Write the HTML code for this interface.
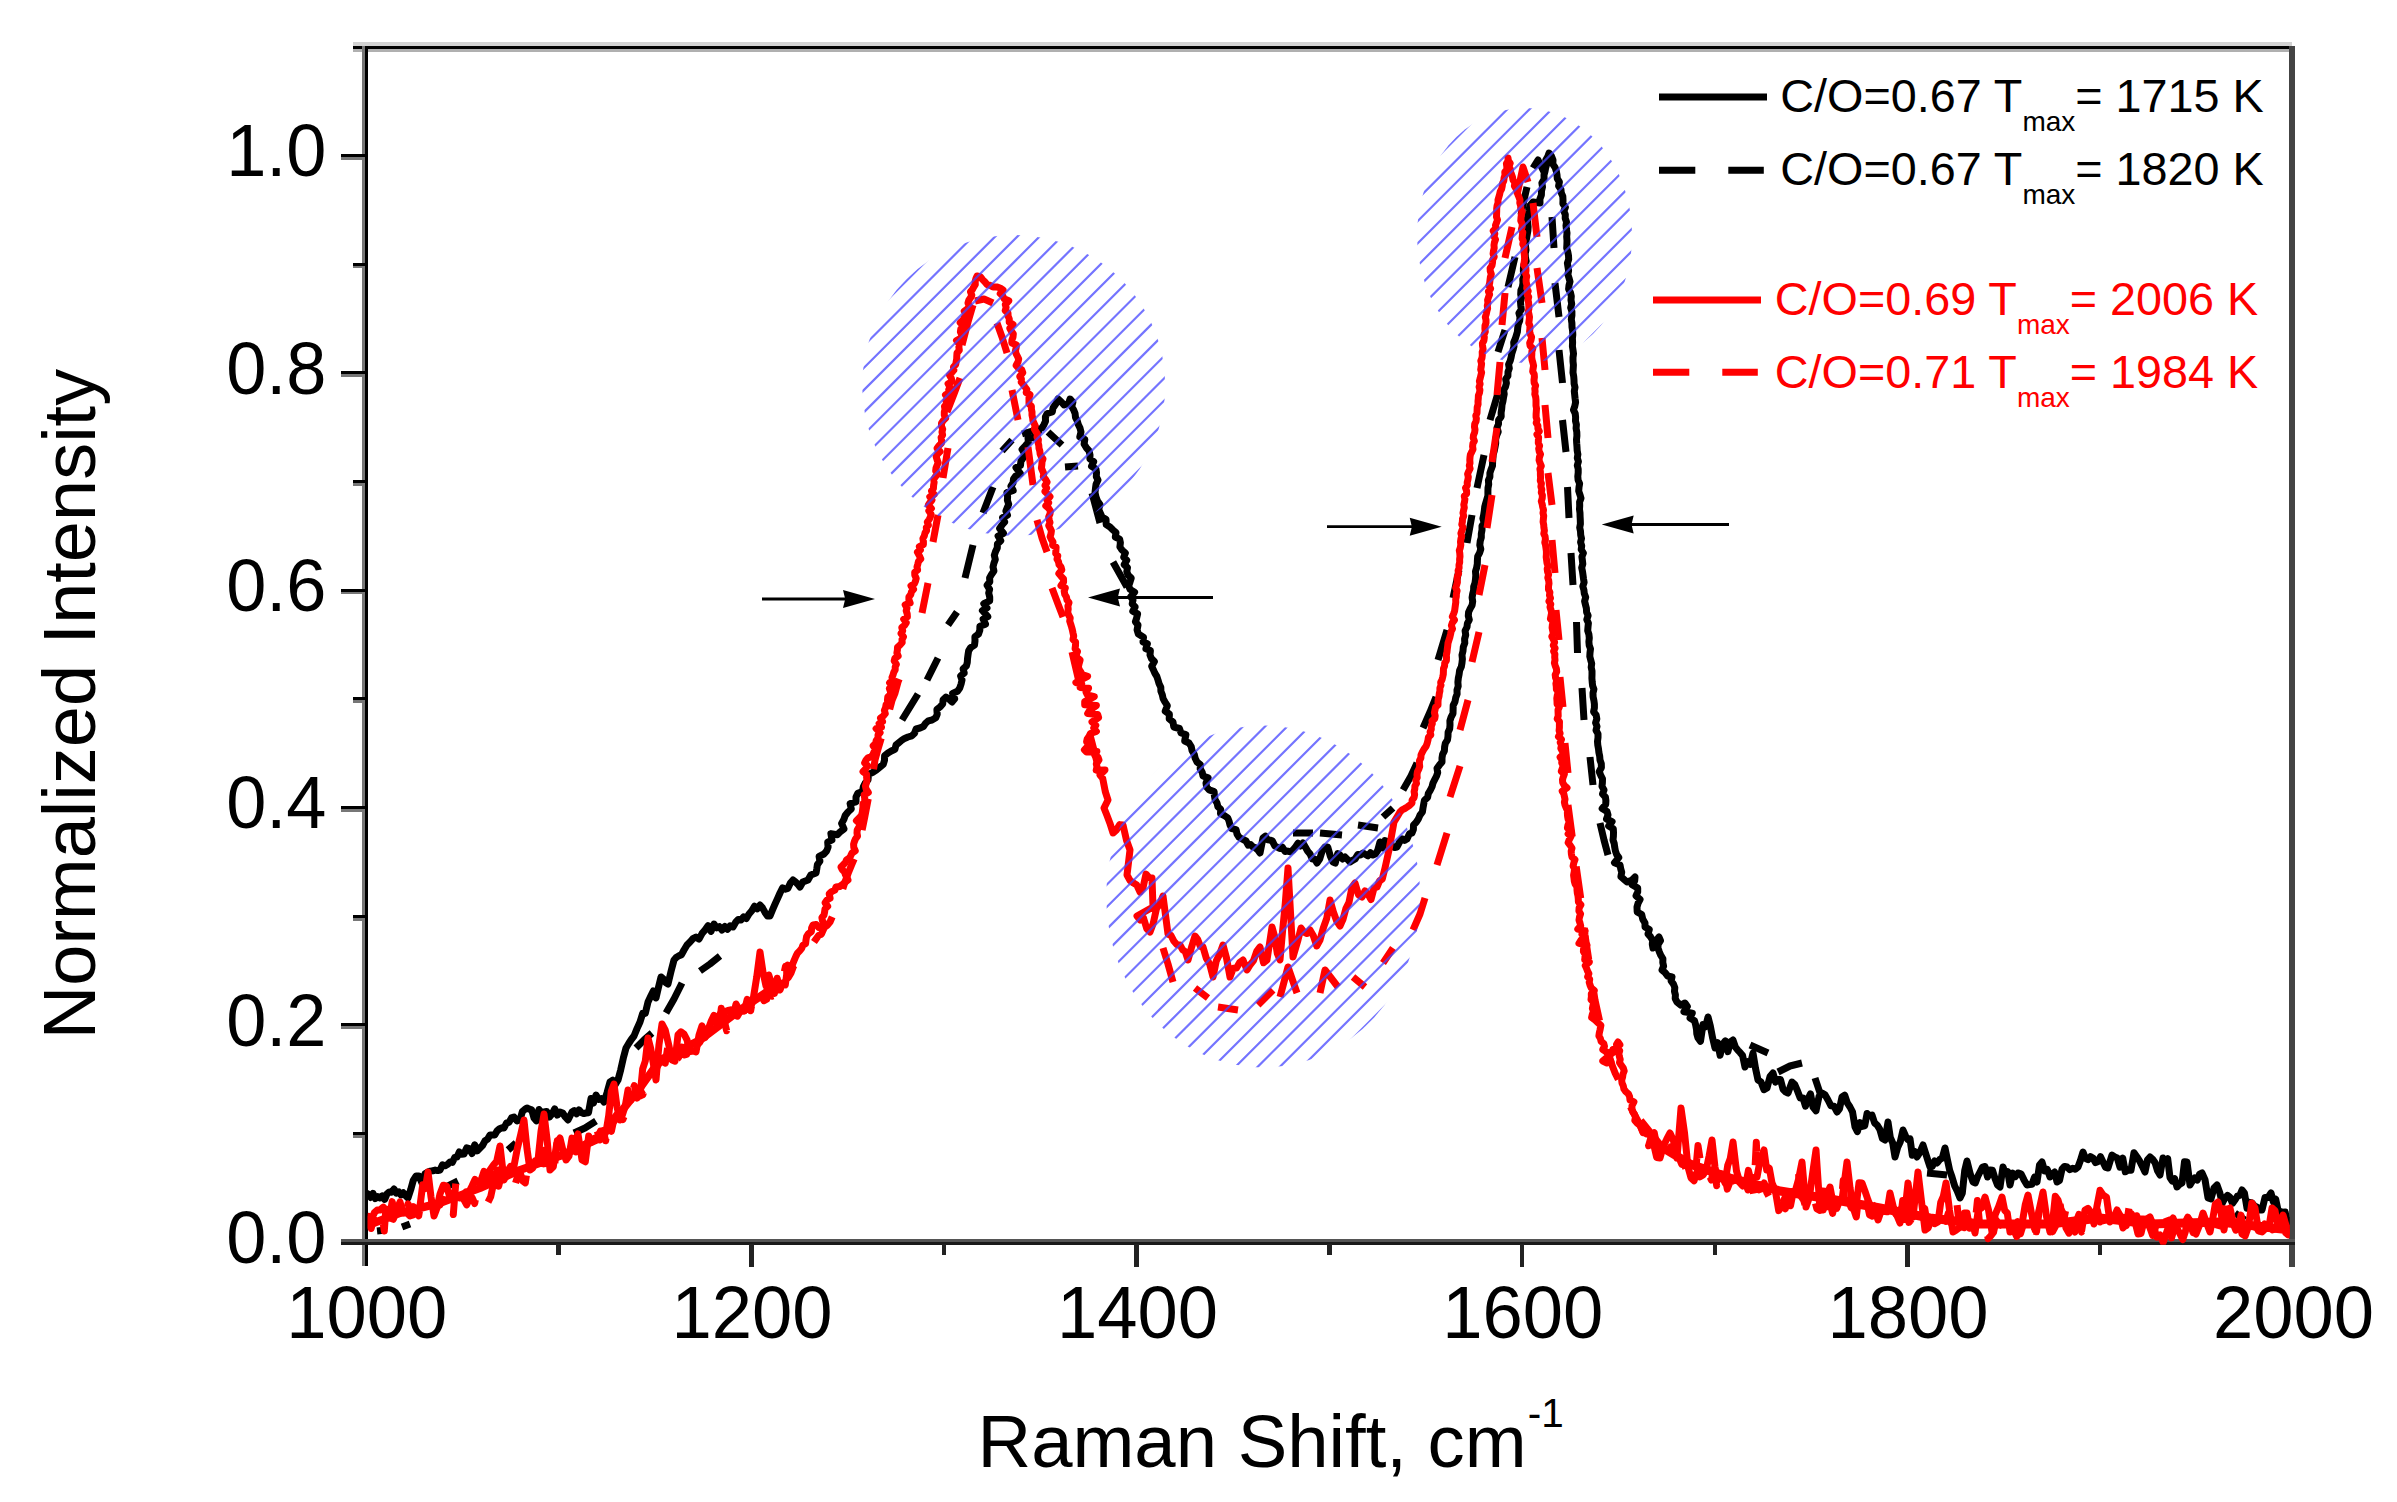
<!DOCTYPE html>
<html><head><meta charset="utf-8"><title>Raman spectra</title>
<style>
html,body{margin:0;padding:0;background:#fff;}
body{width:2397px;height:1502px;overflow:hidden;}
svg{display:block;}
text{font-family:"Liberation Sans",Arial,Helvetica,sans-serif;fill:#000;}
.tk{font-size:74px;}
.lg{font-size:46.75px;}
.sub{font-size:28px;}
.r{fill:#ff0000;}
</style></head><body>
<svg width="2397" height="1502" viewBox="0 0 2397 1502">
<rect width="2397" height="1502" fill="#fff"/>

<g shape-rendering="crispEdges">
<rect x="352.7" y="42" width="1939.5" height="3.7" fill="#d2d2d2"/>
<rect x="352.7" y="45.7" width="1942" height="3" fill="#000"/>
<rect x="352.7" y="48.7" width="1942" height="3" fill="#b0b0b0"/>
<rect x="362" y="45.7" width="2.7" height="1220.5" fill="#777"/>
<rect x="364.7" y="45.7" width="3" height="1220.5" fill="#000"/>
<rect x="2289.2" y="45.7" width="5.5" height="1220.8" fill="#444"/>
<rect x="340.7" y="1239.3" width="1954" height="2.7" fill="#555"/>
<rect x="340.7" y="1242" width="1954" height="2.7" fill="#1a1a1a"/>
<rect x="353" y="1132.1" width="12" height="3" fill="#000"/><rect x="353" y="1135.1" width="12" height="2.7" fill="#777"/>
<rect x="340.7" y="1023.4" width="24" height="3" fill="#000"/><rect x="340.7" y="1026.4" width="24" height="2.7" fill="#777"/>
<rect x="353" y="914.8" width="12" height="3" fill="#000"/><rect x="353" y="917.8" width="12" height="2.7" fill="#777"/>
<rect x="340.7" y="806.1" width="24" height="3" fill="#000"/><rect x="340.7" y="809.1" width="24" height="2.7" fill="#777"/>
<rect x="353" y="697.4" width="12" height="3" fill="#000"/><rect x="353" y="700.4" width="12" height="2.7" fill="#777"/>
<rect x="340.7" y="588.7" width="24" height="3" fill="#000"/><rect x="340.7" y="591.7" width="24" height="2.7" fill="#777"/>
<rect x="353" y="480.0" width="12" height="3" fill="#000"/><rect x="353" y="483.0" width="12" height="2.7" fill="#777"/>
<rect x="340.7" y="371.4" width="24" height="3" fill="#000"/><rect x="340.7" y="374.4" width="24" height="2.7" fill="#777"/>
<rect x="353" y="262.7" width="12" height="3" fill="#000"/><rect x="353" y="265.7" width="12" height="2.7" fill="#777"/>
<rect x="340.7" y="154.0" width="24" height="3" fill="#000"/><rect x="340.7" y="157.0" width="24" height="2.7" fill="#777"/>
<rect x="556.4" y="1244" width="4.6" height="11" fill="#222"/>
<rect x="749.1" y="1244" width="4.6" height="22.5" fill="#222"/>
<rect x="941.7" y="1244" width="4.6" height="11" fill="#222"/>
<rect x="1134.4" y="1244" width="4.6" height="22.5" fill="#222"/>
<rect x="1327.1" y="1244" width="4.6" height="11" fill="#222"/>
<rect x="1519.8" y="1244" width="4.6" height="22.5" fill="#222"/>
<rect x="1712.5" y="1244" width="4.6" height="11" fill="#222"/>
<rect x="1905.1" y="1244" width="4.6" height="22.5" fill="#222"/>
<rect x="2097.8" y="1244" width="4.6" height="11" fill="#222"/>
</g>
<clipPath id="plot"><rect x="367.7" y="50" width="1922" height="1194.7"/></clipPath><g clip-path="url(#plot)">
<path d="M366.0,1193.0 L368.3,1194.1 L370.7,1197.5 L373.0,1193.4 L375.3,1198.6 L377.7,1196.6 L380.0,1198.0 L382.3,1195.9 L384.7,1199.4 L387.0,1193.9 L389.3,1191.9 L391.7,1192.2 L394.0,1189.0 L396.3,1193.1 L398.7,1191.9 L401.0,1194.9 L403.3,1192.8 L405.7,1195.7 L408.0,1198.0 L410.7,1189.7 L413.3,1180.3 L416.0,1176.0 L419.0,1176.0 L422.0,1183.0 L425.0,1173.8 L428.0,1172.0 L430.4,1171.1 L432.8,1170.8 L435.2,1170.1 L437.6,1170.6 L440.0,1170.0 L442.5,1164.9 L445.0,1165.8 L447.5,1164.5 L450.0,1162.0 L452.3,1162.4 L454.7,1157.4 L457.0,1157.1 L459.3,1152.0 L461.7,1154.2 L464.0,1154.0 L466.7,1147.9 L469.3,1148.7 L472.0,1153.5 L474.7,1144.9 L477.3,1150.8 L480.0,1148.0 L482.5,1145.5 L485.0,1140.8 L487.5,1139.3 L490.0,1135.0 L492.3,1135.0 L494.7,1135.1 L497.0,1131.0 L499.3,1129.0 L501.7,1127.8 L504.0,1128.0 L506.5,1123.0 L509.0,1122.4 L511.5,1117.9 L514.0,1117.0 L517.0,1121.0 L520.0,1120.0 L522.3,1111.7 L524.7,1109.5 L527.0,1108.0 L529.3,1109.1 L531.7,1109.9 L534.0,1118.0 L536.5,1120.9 L539.0,1109.5 L541.5,1112.8 L544.0,1112.0 L546.7,1111.5 L549.3,1117.1 L552.0,1114.0 L554.7,1108.8 L557.3,1115.1 L560.0,1112.0 L562.7,1113.0 L565.3,1117.0 L568.0,1120.0 L572.0,1112.0 L574.3,1110.6 L576.7,1113.8 L579.0,1109.9 L581.3,1112.5 L583.7,1113.6 L586.0,1113.0 L588.5,1112.7 L591.0,1098.5 L593.5,1103.0 L596.0,1095.0 L598.7,1099.5 L601.3,1098.6 L604.0,1102.0 L607.0,1092.7 L610.0,1082.0 L612.7,1080.3 L615.3,1084.5 L618.0,1080.0 L620.7,1069.8 L623.3,1058.2 L626.0,1048.0 L628.7,1043.5 L631.3,1039.5 L634.0,1036.0 L637.0,1028.6 L640.0,1022.0 L642.7,1013.3 L645.3,1013.4 L648.0,1002.0 L650.7,996.3 L653.3,991.0 L656.0,998.0 L658.5,987.2 L661.0,977.0 L663.3,979.0 L665.7,982.5 L668.0,984.0 L671.0,971.5 L674.0,960.0 L676.5,957.2 L679.0,955.8 L681.5,954.7 L684.0,950.0 L687.0,945.0 L690.0,942.0 L693.0,938.6 L696.0,937.0 L699.0,939.1 L702.0,933.6 L705.0,930.0 L708.0,925.7 L711.0,931.3 L714.0,924.0 L716.7,927.8 L719.3,926.6 L722.0,930.0 L724.8,926.5 L727.5,929.2 L730.2,925.8 L733.0,927.0 L735.7,922.2 L738.3,919.4 L741.0,920.0 L743.7,916.8 L746.3,918.5 L749.0,914.0 L751.8,910.8 L754.5,906.2 L757.2,908.8 L760.0,905.0 L762.5,907.9 L765.0,912.4 L767.5,916.0 L770.0,916.0 L772.5,909.9 L775.0,904.2 L777.5,898.6 L780.0,893.0 L782.6,887.8 L785.2,889.3 L787.8,888.4 L790.4,883.0 L793.0,880.0 L795.3,881.8 L797.7,884.1 L800.0,887.0 L802.8,882.1 L808.0,880.0 L810.8,875.1 L816.0,873.0 L816.8,868.8 L817.4,864.6 L819.9,861.2 L819.1,856.4 L824.0,854.0 L826.7,850.9 L828.1,847.1 L827.7,842.2 L832.0,840.0 L830.9,833.6 L837.3,834.7 L840.0,832.0 L844.0,828.9 L841.6,823.4 L843.8,819.6 L845.2,815.5 L848.0,812.0 L851.3,809.0 L850.1,803.5 L856.0,801.8 L856.0,797.0 L857.8,793.2 L862.5,791.4 L863.3,786.8 L865.2,783.1 L868.0,780.0 L868.5,774.4 L872.8,772.4 L876.6,769.8 L880.0,767.0 L883.3,764.3 L884.5,760.3 L884.6,755.7 L888.0,753.0 L891.3,751.0 L894.9,749.3 L896.0,745.0 L898.8,742.7 L901.6,740.4 L904.6,738.4 L908.0,737.0 L911.8,735.9 L914.5,733.2 L916.1,729.0 L920.0,728.0 L923.4,726.5 L925.5,723.3 L928.3,720.9 L932.0,720.0 L935.8,717.8 L937.2,714.2 L936.9,709.5 L940.1,706.9 L942.7,704.0 L943.1,699.7 L946.0,697.0 L949.1,699.3 L952.0,702.0 L954.7,698.8 L952.6,693.4 L957.5,691.2 L959.8,687.9 L961.1,684.0 L962.0,680.0 L960.6,675.9 L964.2,673.0 L963.1,668.9 L966.4,665.9 L967.3,662.4 L967.5,658.7 L968.0,655.0 L968.6,650.9 L970.6,647.6 L974.5,645.1 L975.0,641.0 L974.9,636.8 L978.5,634.0 L979.8,630.3 L979.9,626.2 L985.5,624.1 L983.1,619.0 L987.8,616.6 L982.4,610.5 L987.0,608.0 L983.8,603.7 L989.7,600.8 L989.7,597.0 L988.7,593.0 L989.6,589.4 L987.1,585.2 L989.8,581.8 L989.6,577.9 L991.5,574.4 L993.9,570.9 L993.0,567.0 L993.9,563.2 L995.3,559.5 L994.3,555.3 L995.5,551.6 L997.3,547.9 L997.4,544.0 L1000.8,540.7 L998.1,536.1 L1003.5,533.3 L999.6,528.5 L1002.0,525.0 L1004.7,522.0 L1002.6,517.7 L1007.5,515.2 L1005.9,511.1 L1007.2,507.7 L1008.7,504.3 L1007.4,500.2 L1007.6,496.6 L1006.9,492.6 L1013.2,490.5 L1010.9,486.2 L1013.0,483.0 L1013.5,479.1 L1015.8,475.8 L1020.4,473.5 L1016.0,467.6 L1020.5,465.3 L1020.9,461.3 L1023.0,458.0 L1024.9,454.2 L1022.0,449.3 L1025.3,445.8 L1028.4,442.3 L1028.0,438.0 L1033.0,437.7 L1036.6,435.2 L1037.7,429.3 L1042.0,428.0 L1043.9,424.7 L1045.5,421.2 L1045.4,416.9 L1047.2,413.5 L1052.3,412.0 L1053.0,408.0 L1055.9,403.7 L1058.0,399.0 L1061.2,401.8 L1064.0,405.0 L1068.5,403.5 L1070.0,399.0 L1072.9,402.1 L1071.7,406.5 L1073.7,409.9 L1075.1,413.5 L1075.5,417.4 L1077.2,420.8 L1078.3,424.5 L1080.0,428.0 L1081.0,432.0 L1079.8,436.9 L1084.8,439.4 L1084.1,444.0 L1086.2,447.6 L1089.1,450.9 L1090.0,455.0 L1089.9,459.0 L1093.7,461.7 L1091.5,466.3 L1095.9,468.9 L1096.5,472.6 L1096.3,476.6 L1098.0,480.0 L1096.1,484.1 L1095.5,488.3 L1095.0,492.6 L1096.0,497.0 L1097.5,500.9 L1100.0,504.5 L1098.7,509.3 L1100.3,513.1 L1102.0,517.0 L1106.0,519.2 L1106.2,524.6 L1110.0,527.0 L1113.0,530.0 L1116.0,532.7 L1115.3,537.0 L1119.6,539.1 L1120.4,542.7 L1119.9,546.9 L1122.0,550.0 L1125.4,553.0 L1123.7,557.2 L1126.8,560.2 L1124.2,564.6 L1127.5,567.6 L1126.8,571.5 L1128.0,575.0 L1131.2,578.1 L1130.0,582.0 L1128.6,586.0 L1130.1,589.4 L1134.6,592.2 L1130.7,596.7 L1133.0,600.0 L1132.2,603.9 L1135.1,607.0 L1132.8,611.2 L1137.6,613.9 L1136.7,617.8 L1135.4,621.8 L1138.0,625.0 L1137.1,629.9 L1138.4,634.1 L1143.5,637.2 L1143.0,642.0 L1147.4,643.8 L1145.9,648.8 L1150.4,650.6 L1150.0,655.0 L1151.4,658.5 L1154.4,661.5 L1151.7,666.3 L1153.3,669.7 L1154.8,673.1 L1156.8,676.4 L1158.0,680.0 L1159.1,683.7 L1160.8,687.2 L1160.9,691.2 L1162.3,694.8 L1163.1,698.6 L1165.0,702.0 L1167.3,705.7 L1165.2,711.2 L1169.4,714.2 L1169.2,718.9 L1173.0,722.0 L1173.8,727.0 L1179.5,728.5 L1181.0,733.0 L1185.9,734.5 L1184.7,741.0 L1189.0,743.0 L1191.2,746.5 L1192.1,750.7 L1194.2,754.2 L1195.2,758.3 L1197.0,762.0 L1200.4,764.7 L1200.2,768.9 L1202.2,772.2 L1203.0,776.0 L1208.1,777.9 L1206.0,783.0 L1206.6,787.0 L1209.2,789.9 L1214.1,791.6 L1214.4,795.7 L1215.1,799.7 L1217.0,803.0 L1217.9,806.7 L1220.7,809.3 L1220.5,813.6 L1224.4,815.6 L1227.7,817.8 L1229.1,821.3 L1230.0,825.0 L1231.8,828.6 L1236.1,829.6 L1237.0,834.0 L1239.1,837.3 L1242.4,839.2 L1246.0,841.0 L1248.3,845.2 L1250.7,844.6 L1253.0,847.0 L1255.3,847.7 L1257.7,849.7 L1260.0,853.0 L1263.0,838.0 L1265.3,836.1 L1267.7,839.8 L1270.0,840.1 L1272.3,840.9 L1274.7,845.8 L1277.0,847.0 L1279.7,848.5 L1282.3,847.2 L1285.0,851.5 L1287.7,851.1 L1290.3,851.8 L1293.0,850.0 L1295.5,846.9 L1298.0,843.2 L1300.5,846.0 L1303.0,843.0 L1305.3,847.0 L1307.7,851.3 L1310.0,853.9 L1312.3,859.1 L1314.7,859.0 L1317.0,863.0 L1319.7,859.1 L1322.3,850.4 L1325.0,847.0 L1327.7,846.9 L1330.3,856.0 L1333.0,862.0 L1335.3,863.0 L1337.7,853.6 L1340.0,855.0 L1342.5,859.0 L1345.0,857.0 L1347.5,859.4 L1350.0,862.0 L1352.6,860.3 L1355.2,858.9 L1357.8,854.5 L1360.4,855.1 L1363.0,853.0 L1365.5,854.5 L1368.0,855.8 L1370.5,852.8 L1373.0,855.0 L1375.3,854.1 L1377.7,850.5 L1380.0,842.0 L1382.4,848.0 L1384.9,840.5 L1387.3,844.5 L1389.7,840.8 L1392.1,846.4 L1394.6,847.5 L1397.0,847.0 L1399.5,842.1 L1402.0,838.8 L1404.5,840.4 L1407.0,839.0 L1409.5,833.6 L1412.0,833.0 L1413.4,829.4 L1413.5,825.1 L1416.3,822.1 L1418.4,818.8 L1420.0,815.2 L1422.4,812.0 L1423.0,808.0 L1423.7,804.1 L1424.4,800.3 L1427.6,797.4 L1428.3,793.6 L1430.3,790.2 L1432.0,786.8 L1433.0,783.0 L1434.7,779.6 L1436.5,776.2 L1437.7,772.6 L1437.0,768.3 L1439.4,765.1 L1442.0,762.0 L1442.0,758.0 L1442.6,754.3 L1444.4,750.8 L1444.6,747.0 L1445.3,743.3 L1447.5,739.9 L1448.0,736.2 L1448.1,732.3 L1449.7,728.8 L1450.0,725.0 L1449.9,720.9 L1451.1,717.1 L1453.0,713.5 L1453.1,709.4 L1453.2,705.4 L1455.0,701.7 L1455.7,697.8 L1457.1,694.1 L1457.0,690.0 L1458.2,686.2 L1457.9,682.2 L1458.3,678.3 L1459.1,674.4 L1459.6,670.5 L1461.3,666.8 L1462.0,662.9 L1462.4,659.0 L1462.0,655.0 L1463.0,651.0 L1463.3,647.0 L1464.8,643.1 L1464.6,639.0 L1465.7,635.0 L1465.1,630.8 L1467.0,627.0 L1467.4,623.3 L1469.3,619.8 L1468.3,615.9 L1468.6,612.1 L1470.2,608.6 L1472.1,605.2 L1472.7,601.5 L1472.1,597.6 L1472.7,593.9 L1473.6,590.3 L1473.7,586.6 L1475.0,583.0 L1475.5,579.2 L1475.8,575.4 L1475.5,571.5 L1476.6,567.8 L1477.3,564.0 L1477.4,560.2 L1477.7,556.4 L1479.6,552.8 L1480.8,549.1 L1479.8,545.1 L1480.2,541.3 L1481.3,537.6 L1481.3,533.8 L1482.0,530.0 L1482.0,526.1 L1484.1,522.5 L1482.9,518.4 L1483.7,514.7 L1484.3,510.8 L1484.7,507.0 L1485.7,503.2 L1486.8,499.5 L1487.9,495.8 L1487.9,491.9 L1488.0,488.0 L1488.7,484.3 L1488.4,480.4 L1489.9,476.8 L1489.9,473.0 L1491.1,469.4 L1492.5,465.8 L1492.6,461.9 L1492.9,458.2 L1493.2,454.4 L1494.3,450.7 L1495.0,447.0 L1495.7,443.2 L1495.6,439.3 L1496.6,435.5 L1498.2,431.8 L1497.0,427.7 L1498.5,424.0 L1498.6,420.1 L1501.2,416.6 L1501.1,412.7 L1501.7,408.9 L1502.0,405.0 L1502.9,401.4 L1503.5,397.7 L1504.2,394.0 L1503.6,390.1 L1505.5,386.7 L1506.4,383.1 L1505.7,379.2 L1507.9,375.8 L1508.0,372.0 L1509.3,368.4 L1508.6,364.4 L1510.2,360.9 L1511.1,357.3 L1511.8,353.6 L1513.0,350.0 L1514.0,346.4 L1513.7,342.5 L1515.2,339.0 L1516.3,335.4 L1517.4,331.8 L1517.7,328.0 L1518.3,324.3 L1519.7,320.8 L1520.0,317.0 L1518.9,313.1 L1521.3,309.5 L1520.8,305.6 L1520.5,301.8 L1521.4,298.1 L1520.7,294.2 L1520.9,290.4 L1522.4,286.8 L1523.0,283.0 L1522.8,279.3 L1524.2,275.7 L1523.4,271.9 L1523.4,268.3 L1524.0,264.6 L1526.2,261.1 L1525.4,257.3 L1525.2,253.6 L1526.0,250.0 L1525.5,246.1 L1525.7,242.2 L1526.6,238.3 L1527.2,234.5 L1527.9,230.6 L1528.1,226.7 L1527.7,222.8 L1527.3,218.9 L1528.0,215.0 L1529.1,210.5 L1529.8,205.8 L1533.0,202.0 L1540.0,203.0 L1539.9,198.9 L1541.4,195.0 L1541.5,191.0 L1542.5,187.0 L1541.9,182.9 L1544.1,179.1 L1544.0,175.0 L1545.0,171.4 L1545.7,167.7 L1546.8,164.1 L1545.8,160.0 L1547.8,156.6 L1549.0,153.0 L1551.5,156.2 L1553.0,160.0 L1552.8,164.1 L1555.1,167.5 L1556.3,171.2 L1557.0,175.0 L1557.3,178.7 L1559.4,182.0 L1558.6,185.9 L1560.9,189.2 L1561.3,192.8 L1562.8,196.3 L1563.0,200.0 L1562.9,203.7 L1565.4,207.2 L1563.9,211.1 L1565.3,214.6 L1565.2,218.3 L1566.5,221.9 L1566.0,225.7 L1566.4,229.3 L1567.0,233.0 L1566.7,236.8 L1567.0,240.6 L1566.9,244.3 L1566.7,248.1 L1567.8,251.9 L1568.5,255.6 L1568.7,259.4 L1567.4,263.2 L1568.0,267.0 L1568.6,270.6 L1567.9,274.4 L1569.0,278.0 L1570.0,281.6 L1569.0,285.4 L1568.6,289.1 L1570.5,292.7 L1571.3,296.3 L1571.0,300.0 L1571.7,303.8 L1570.7,307.7 L1571.9,311.5 L1571.9,315.4 L1571.3,319.2 L1571.9,323.1 L1572.0,326.9 L1572.6,330.8 L1572.8,334.6 L1572.4,338.5 L1572.6,342.3 L1572.4,346.2 L1573.0,350.0 L1573.5,353.7 L1573.0,357.5 L1573.0,361.3 L1573.4,365.0 L1573.2,368.8 L1573.0,372.5 L1573.7,376.3 L1574.0,380.0 L1574.1,383.7 L1575.0,387.4 L1574.3,391.2 L1574.7,394.9 L1575.1,398.6 L1575.6,402.3 L1574.8,406.1 L1573.5,409.9 L1575.2,413.5 L1575.6,417.2 L1575.5,421.0 L1576.4,424.6 L1576.1,428.4 L1576.8,432.1 L1576.9,435.8 L1576.5,439.6 L1576.7,443.3 L1577.0,447.0 L1577.2,450.7 L1577.9,454.3 L1577.3,458.0 L1578.4,461.6 L1577.3,465.4 L1578.2,469.0 L1578.2,472.7 L1577.8,476.4 L1578.1,480.0 L1579.6,483.6 L1579.0,487.3 L1578.7,491.0 L1579.9,494.6 L1581.0,498.3 L1579.6,502.0 L1579.7,505.7 L1579.5,509.3 L1580.0,513.0 L1580.1,516.6 L1580.3,520.3 L1580.4,523.9 L1579.7,527.6 L1580.5,531.3 L1580.7,534.9 L1581.5,538.5 L1580.6,542.2 L1581.7,545.8 L1581.2,549.5 L1583.4,553.0 L1581.9,556.8 L1582.4,560.4 L1582.8,564.0 L1581.7,567.7 L1582.5,571.4 L1583.0,575.0 L1583.5,578.7 L1584.1,582.4 L1582.8,586.3 L1583.9,589.9 L1584.3,593.6 L1585.7,597.2 L1584.6,601.1 L1585.5,604.8 L1586.4,608.4 L1586.6,612.1 L1588.1,615.7 L1586.8,619.6 L1588.4,623.2 L1588.0,627.0 L1587.7,630.7 L1588.9,634.3 L1589.3,638.0 L1588.9,641.7 L1589.2,645.3 L1590.5,648.9 L1590.0,652.7 L1589.8,656.4 L1590.7,660.0 L1591.7,663.6 L1591.2,667.3 L1592.0,670.9 L1592.0,674.6 L1591.9,678.3 L1592.2,682.0 L1592.6,685.7 L1593.9,689.2 L1593.0,693.0 L1593.1,696.7 L1593.9,700.4 L1594.4,704.1 L1594.4,707.9 L1593.6,711.8 L1596.2,715.2 L1596.8,718.9 L1595.6,722.8 L1597.0,726.4 L1596.0,730.3 L1598.0,733.9 L1598.0,737.6 L1597.5,741.4 L1597.8,745.2 L1598.5,748.9 L1598.9,752.6 L1599.7,756.3 L1600.0,760.0 L1601.3,763.6 L1601.4,767.5 L1599.2,771.6 L1600.7,775.2 L1602.5,778.8 L1602.4,782.6 L1602.0,786.4 L1604.0,790.0 L1602.5,793.9 L1605.4,797.1 L1605.9,800.7 L1605.7,804.4 L1602.2,808.6 L1607.0,811.5 L1608.0,815.0 L1606.5,819.0 L1612.1,821.6 L1608.7,826.0 L1613.3,828.8 L1613.5,832.5 L1613.4,836.2 L1613.0,840.0 L1614.2,843.5 L1614.7,847.2 L1615.4,850.9 L1616.6,854.4 L1618.8,857.6 L1614.5,862.7 L1620.0,865.0 L1620.7,868.7 L1621.7,872.3 L1620.9,876.6 L1624.0,879.3 L1627.0,882.0 L1631.5,880.4 L1635.0,877.0 L1634.7,880.8 L1632.2,884.7 L1637.7,888.1 L1637.7,891.9 L1636.0,895.8 L1640.1,899.3 L1638.1,903.2 L1637.0,907.0 L1637.2,911.9 L1641.7,914.6 L1642.7,919.1 L1645.0,923.0 L1645.0,926.9 L1649.3,929.5 L1648.0,933.9 L1650.6,936.9 L1652.6,940.3 L1652.3,944.3 L1653.0,948.0 L1654.9,944.3 L1656.4,940.3 L1659.0,937.0 L1660.5,940.6 L1658.0,944.5 L1658.0,948.2 L1659.3,951.8 L1660.8,955.3 L1662.9,958.8 L1662.8,962.5 L1663.6,966.2 L1662.0,970.0 L1665.1,972.6 L1667.7,976.0 L1672.0,977.0 L1671.1,980.9 L1673.5,984.1 L1674.8,987.6 L1674.5,991.3 L1675.4,994.9 L1675.2,998.6 L1677.0,1002.0 L1680.7,1005.1 L1685.0,1003.0 L1687.4,1006.4 L1684.0,1011.7 L1692.3,1013.1 L1690.0,1018.0 L1694.5,1020.8 L1695.7,1025.0 L1696.5,1029.3 L1696.8,1033.8 L1698.0,1038.0 L1700.5,1041.3 L1703.0,1024.6 L1705.5,1026.8 L1708.0,1017.0 L1710.3,1025.8 L1712.7,1038.3 L1715.0,1048.0 L1717.6,1042.6 L1720.1,1055.2 L1722.7,1044.4 L1725.3,1040.9 L1727.9,1051.7 L1730.4,1041.9 L1733.0,1040.0 L1735.4,1047.1 L1737.8,1050.2 L1740.2,1052.7 L1742.6,1055.6 L1745.0,1067.0 L1747.7,1061.6 L1750.3,1064.4 L1753.0,1053.0 L1755.5,1068.3 L1758.0,1080.0 L1761.0,1081.9 L1764.0,1089.7 L1767.0,1088.0 L1770.0,1076.6 L1773.0,1073.0 L1775.5,1082.1 L1778.0,1079.6 L1780.5,1079.5 L1783.0,1089.2 L1785.5,1091.8 L1788.0,1093.0 L1792.0,1082.0 L1794.8,1084.6 L1797.5,1090.9 L1800.2,1098.1 L1803.0,1098.0 L1805.5,1106.1 L1808.0,1099.0 L1810.5,1093.8 L1813.0,1107.0 L1816.0,1110.8 L1819.0,1096.6 L1822.0,1093.0 L1825.0,1094.8 L1828.0,1100.0 L1831.0,1105.8 L1834.0,1106.2 L1837.0,1112.0 L1839.5,1108.8 L1842.0,1097.0 L1844.7,1095.2 L1847.3,1102.8 L1850.0,1107.0 L1852.5,1111.8 L1855.0,1127.0 L1857.4,1131.6 L1859.9,1122.5 L1862.3,1126.4 L1864.7,1125.9 L1867.1,1113.5 L1869.6,1115.8 L1872.0,1115.0 L1874.6,1123.0 L1877.2,1125.2 L1879.8,1129.4 L1882.4,1138.5 L1885.0,1140.0 L1888.0,1122.0 L1890.3,1137.5 L1892.7,1142.9 L1895.0,1157.0 L1897.7,1147.4 L1900.3,1141.7 L1903.0,1130.0 L1905.3,1135.4 L1907.7,1139.6 L1910.0,1138.8 L1912.3,1155.3 L1914.7,1151.5 L1917.0,1157.0 L1920.0,1152.1 L1923.0,1145.0 L1925.3,1152.2 L1927.7,1159.9 L1930.0,1167.0 L1932.3,1166.3 L1934.7,1160.9 L1937.0,1163.0 L1939.7,1159.6 L1942.3,1158.0 L1945.0,1148.0 L1947.3,1159.3 L1949.7,1170.4 L1952.0,1177.0 L1954.7,1186.0 L1957.3,1191.1 L1960.0,1198.0 L1962.3,1193.2 L1964.7,1170.5 L1967.0,1161.0 L1970.0,1173.1 L1973.0,1182.0 L1975.3,1182.9 L1977.7,1176.5 L1980.0,1172.0 L1982.5,1167.1 L1985.0,1166.5 L1987.5,1177.0 L1990.0,1170.0 L1992.5,1170.3 L1995.0,1178.5 L1997.5,1185.0 L2000.0,1187.0 L2003.0,1167.0 L2005.3,1173.4 L2007.7,1171.6 L2010.0,1185.0 L2012.7,1173.1 L2015.3,1176.6 L2018.0,1173.0 L2021.0,1173.8 L2024.0,1179.9 L2027.0,1185.0 L2029.5,1184.6 L2032.0,1184.2 L2034.5,1177.2 L2037.0,1182.0 L2039.5,1165.0 L2042.0,1162.0 L2044.7,1170.9 L2047.3,1169.4 L2050.0,1177.0 L2052.3,1173.8 L2054.7,1172.0 L2057.0,1182.0 L2059.5,1180.5 L2062.0,1169.2 L2064.5,1166.4 L2067.0,1167.0 L2069.8,1169.6 L2072.5,1168.3 L2075.2,1169.3 L2078.0,1167.0 L2080.5,1160.2 L2083.0,1152.0 L2085.5,1158.4 L2088.0,1159.7 L2090.5,1156.7 L2093.0,1158.0 L2095.5,1162.7 L2098.0,1161.5 L2100.5,1156.6 L2103.0,1162.0 L2105.5,1167.4 L2108.0,1168.0 L2112.0,1155.0 L2114.7,1156.9 L2117.3,1158.0 L2120.0,1167.2 L2122.7,1158.0 L2125.3,1171.8 L2128.0,1170.0 L2131.0,1170.2 L2134.0,1152.7 L2137.0,1157.0 L2139.7,1161.2 L2142.3,1166.3 L2145.0,1172.0 L2147.5,1159.8 L2150.0,1157.0 L2152.5,1159.1 L2155.0,1162.6 L2157.5,1170.8 L2160.0,1175.0 L2163.0,1158.0 L2165.3,1160.5 L2167.7,1158.7 L2170.0,1177.5 L2172.3,1181.1 L2174.7,1178.7 L2177.0,1187.0 L2179.5,1184.4 L2182.0,1183.0 L2184.5,1161.7 L2187.0,1162.0 L2190.0,1185.0 L2192.4,1180.9 L2194.8,1178.0 L2197.2,1180.1 L2199.6,1174.1 L2202.0,1173.0 L2205.0,1179.6 L2208.0,1198.0 L2211.0,1198.9 L2214.0,1188.0 L2217.0,1185.0 L2219.7,1192.4 L2222.3,1203.2 L2225.0,1198.0 L2227.5,1195.4 L2230.0,1197.3 L2232.5,1203.3 L2235.0,1200.0 L2237.3,1196.2 L2239.7,1195.5 L2242.0,1190.0 L2244.5,1193.2 L2247.0,1208.3 L2249.5,1202.4 L2252.0,1203.0 L2254.5,1206.2 L2257.0,1207.0 L2259.5,1209.9 L2262.0,1210.0 L2265.0,1197.5 L2268.0,1197.5 L2271.0,1193.0 L2273.3,1201.8 L2275.7,1199.3 L2278.0,1210.0 L2280.4,1211.6 L2282.8,1212.4 L2285.2,1212.0 L2287.6,1226.1 L2290.0,1217.0" fill="none" stroke="#000" stroke-width="7" stroke-linejoin="round" stroke-linecap="butt"/>
<path d="M377.0,1231.0 L386.0,1230.0 M402.0,1227.0 L410.0,1224.0 M448.0,1186.0 L458.0,1181.0 M508.0,1150.0 L516.0,1143.0 M574.0,1133.0 L585.0,1128.0 L596.0,1121.0 M636.0,1048.0 L644.0,1040.0 L652.0,1033.0 M666.0,1013.0 L674.0,999.0 L682.0,983.0 M700.0,971.0 L710.0,964.0 L720.0,956.0 M902.0,720.0 L910.0,707.0 L918.0,694.0 M927.0,680.0 L938.0,658.0 M948.0,625.0 L957.0,612.0 M965.0,578.0 L973.0,545.0 M983.0,513.0 L993.0,487.0 M1002.0,451.0 L1012.0,440.0 M1022.0,434.0 L1036.0,430.0 L1042.0,430.0 M1048.0,432.0 L1062.0,445.0 M1065.0,467.0 L1078.0,466.0 M1092.0,493.0 L1100.0,523.0 M1113.0,562.0 L1127.0,587.0 M1293.0,833.0 L1313.0,833.0 M1320.0,833.0 L1342.0,835.0 M1358.0,825.0 L1378.0,828.0 M1383.0,817.0 L1393.0,808.0 M1403.0,790.0 L1411.0,776.0 L1417.0,763.0 M1423.0,728.0 L1430.0,712.0 L1436.0,697.0 M1438.0,660.0 L1447.0,630.0 M1453.0,598.0 L1459.0,570.0 M1467.0,543.0 L1472.0,515.0 M1477.0,488.0 L1484.0,455.0 M1490.0,420.0 L1498.0,393.0 M1498.0,352.0 L1505.0,330.0 M1508.0,287.0 L1515.0,257.0 M1521.0,215.0 L1524.0,200.0 L1527.0,187.0 M1533.0,168.0 L1538.0,160.0 L1544.0,172.0 M1552.0,217.0 L1554.0,248.0 M1555.0,283.0 L1559.0,317.0 M1559.0,350.0 L1562.5,383.0 M1562.5,420.0 L1566.0,452.0 M1567.5,487.0 L1569.0,518.0 M1571.0,553.0 L1573.0,585.0 M1576.5,622.0 L1577.5,653.0 M1582.0,688.0 L1584.0,720.0 M1590.0,757.0 L1593.0,785.0 M1600.0,823.0 L1604.0,840.0 L1608.0,855.0 M1750.0,1045.0 L1768.0,1053.0 M1778.0,1072.0 L1790.0,1066.0 L1802.0,1063.0 M1815.0,1078.0 L1820.0,1093.0 M1927.0,1173.0 L1947.0,1175.0 M2235.0,1213.0 L2245.0,1220.0 M2258.0,1225.0 L2268.0,1227.0 M2280.0,1228.0 L2288.0,1230.0" fill="none" stroke="#000" stroke-width="7" stroke-linejoin="round"/>
<path d="M366.0,1220.0 L368.8,1216.5 L371.6,1219.1 L374.4,1212.6 L377.2,1210.1 L380.0,1210.0 L383.3,1207.1 L386.7,1214.1 L390.0,1218.0 L393.3,1219.3 L396.7,1209.9 L400.0,1202.0 L403.3,1212.9 L406.7,1212.8 L410.0,1216.0 L413.3,1215.0 L416.7,1210.4 L420.0,1206.0 L422.7,1184.7 L425.3,1188.5 L428.0,1172.0 L431.0,1197.0 L434.0,1216.0 L437.0,1208.0 L440.0,1194.0 L443.3,1185.2 L446.7,1186.2 L450.0,1198.0 L453.3,1192.7 L456.7,1195.2 L460.0,1198.0 L463.0,1196.8 L466.0,1191.7 L469.0,1192.1 L472.0,1186.0 L475.0,1179.5 L478.0,1182.5 L481.0,1180.4 L484.0,1171.4 L487.0,1183.0 L490.0,1170.0 L493.3,1165.3 L496.7,1161.2 L500.0,1146.0 L504.0,1180.0 L507.3,1171.6 L510.7,1166.2 L514.0,1166.0 L517.3,1148.6 L520.7,1134.7 L524.0,1120.0 L527.0,1148.8 L530.0,1170.0 L532.7,1168.2 L535.3,1160.6 L538.0,1160.0 L541.0,1131.3 L544.0,1114.0 L547.0,1138.9 L550.0,1170.0 L553.3,1166.7 L556.7,1143.8 L560.0,1138.0 L563.0,1150.5 L566.0,1160.0 L569.0,1156.1 L572.0,1138.1 L575.0,1140.8 L578.0,1134.0 L582.0,1160.0 L585.3,1161.8 L588.7,1135.9 L592.0,1142.0 L594.8,1138.1 L597.6,1137.4 L600.4,1131.1 L603.2,1137.0 L606.0,1132.0 L608.7,1115.6 L611.3,1091.2 L614.0,1084.0 L617.0,1107.0 L620.0,1120.0 L622.7,1114.0 L625.3,1105.7 L628.0,1090.0 L631.0,1100.1 L634.0,1095.2 L637.0,1095.2 L640.0,1096.0 L642.7,1068.9 L645.3,1061.0 L648.0,1038.0 L650.7,1048.3 L653.3,1063.3 L656.0,1080.0 L659.0,1044.4 L662.0,1024.0 L665.3,1030.2 L668.7,1044.8 L672.0,1060.0 L675.0,1061.2 L678.0,1034.8 L681.0,1031.8 L684.0,1034.0 L687.0,1039.9 L690.0,1051.7 L693.0,1051.0 L696.0,1052.0 L699.0,1035.1 L702.0,1025.9 L705.0,1037.6 L708.0,1030.0 L711.0,1021.6 L714.0,1015.3 L717.0,1023.9 L720.0,1014.0 L722.7,1018.9 L725.3,1011.6 L728.0,1010.5 L730.7,1009.9 L733.3,1015.2 L736.0,1004.0 L738.8,1008.9 L741.6,1009.5 L744.4,1010.9 L747.2,999.4 L750.0,1010.0 L753.3,998.4 L756.7,977.1 L760.0,952.0 L763.0,972.2 L766.0,986.0 L768.8,975.0 L771.6,983.8 L774.4,993.5 L777.2,978.3 L780.0,990.0 L782.7,983.2 L785.3,984.8 L788.0,965.1 L790.7,969.4 L793.3,962.4 L796.0,956.0 L797.5,953.2 L799.7,950.9 L801.7,948.4 L802.8,945.4 L805.6,943.5 L806.0,940.0 L806.6,936.6 L808.3,933.8 L811.4,931.6 L811.6,928.0 L813.0,925.0 L816.2,924.5 L818.7,927.5 L822.0,927.0 L824.4,924.3 L822.5,920.9 L821.9,917.7 L824.0,915.0 L824.6,912.0 L825.0,908.9 L827.7,906.3 L825.1,902.8 L827.0,900.0 L830.1,898.3 L829.2,893.9 L831.6,891.6 L834.9,890.1 L836.0,887.0 L839.7,886.5 L842.6,884.5 L845.2,882.1 L848.0,880.0 L846.8,877.3 L845.4,874.7 L844.5,871.8 L842.2,869.7 L841.0,867.0 L843.1,864.9 L845.3,862.8 L846.5,860.0 L849.1,858.3 L850.7,855.8 L852.0,853.0 L855.3,850.8 L853.8,847.4 L853.6,844.3 L854.4,841.5 L855.6,838.7 L857.5,836.1 L857.0,833.0 L857.2,830.0 L858.8,827.3 L861.3,824.9 L856.4,820.7 L858.9,818.2 L861.3,815.7 L862.2,812.9 L862.6,810.0 L863.0,807.0 L862.9,803.9 L864.7,801.1 L864.7,798.1 L864.1,794.9 L868.3,792.5 L866.1,789.1 L865.4,785.9 L866.4,783.0 L867.0,780.0 L866.6,777.2 L866.6,774.3 L863.0,771.6 L865.8,768.6 L867.6,765.6 L864.6,762.9 L866.0,760.0 L867.9,757.9 L870.9,756.9 L872.8,754.8 L874.0,752.0 L876.6,749.6 L873.2,745.8 L875.6,743.4 L876.2,740.6 L878.1,738.0 L878.0,735.0 L880.1,732.6 L876.1,728.6 L881.5,727.2 L879.1,723.6 L882.5,721.6 L880.5,718.1 L883.3,716.0 L885.3,713.6 L884.4,710.4 L885.5,707.8 L886.0,705.0 L887.6,702.5 L887.5,699.6 L887.8,696.8 L890.5,694.5 L890.5,691.7 L889.4,688.5 L893.9,686.7 L889.6,682.8 L892.9,680.7 L892.0,677.6 L893.0,675.0 L893.8,672.3 L895.2,669.8 L895.2,666.9 L896.4,664.3 L894.2,660.9 L894.9,658.2 L898.2,656.1 L896.9,652.9 L897.4,650.2 L897.5,647.3 L900.0,645.0 L902.2,642.5 L902.0,639.5 L903.5,636.8 L901.0,633.4 L902.7,630.8 L901.8,627.6 L904.7,625.3 L906.3,622.6 L903.7,619.2 L907.4,616.9 L907.2,613.9 L906.2,610.8 L907.0,608.0 L905.2,604.7 L910.1,603.0 L908.9,599.8 L908.9,596.9 L910.8,594.5 L911.5,591.7 L913.6,589.3 L911.0,585.8 L914.4,583.8 L915.5,581.1 L916.2,578.4 L914.8,575.1 L914.7,572.2 L917.6,570.0 L917.0,567.0 L917.8,564.2 L918.5,561.4 L920.8,558.9 L919.3,555.6 L917.4,552.1 L920.5,549.9 L919.3,546.6 L923.4,544.6 L923.4,541.6 L922.9,538.5 L924.3,535.8 L925.0,533.0 L926.6,530.5 L926.3,527.5 L928.4,525.1 L927.3,522.0 L929.2,519.5 L930.4,516.9 L931.1,514.2 L928.8,510.8 L931.4,508.5 L928.4,505.0 L930.0,502.5 L932.0,500.0 L929.8,496.8 L934.1,494.4 L931.5,491.1 L933.4,488.4 L933.6,485.4 L934.1,482.5 L933.8,479.5 L935.2,476.8 L937.6,474.1 L935.7,470.9 L936.0,468.0 L937.1,465.3 L938.2,462.7 L937.1,459.7 L936.2,456.7 L937.6,454.0 L940.1,451.6 L937.1,448.3 L938.9,445.7 L941.4,443.3 L941.6,440.5 L941.1,437.5 L942.6,434.9 L942.0,432.0 L942.7,429.2 L941.5,426.1 L941.5,423.2 L943.2,420.6 L945.7,418.1 L944.3,415.0 L944.3,412.1 L945.0,409.3 L944.5,406.3 L946.8,403.8 L946.0,400.8 L948.5,398.3 L945.5,394.9 L949.4,392.7 L948.7,389.7 L950.0,387.0 L948.1,383.7 L952.1,381.5 L951.4,378.4 L949.5,375.1 L951.8,372.6 L953.9,370.1 L953.5,367.0 L955.7,364.5 L956.2,361.7 L956.7,358.8 L956.8,355.9 L957.0,353.0 L959.3,350.3 L958.9,347.2 L959.2,344.1 L956.5,340.5 L960.9,338.2 L961.9,335.3 L960.4,331.9 L960.8,328.9 L964.4,326.5 L960.2,322.6 L963.0,320.0 L964.4,317.3 L967.7,315.2 L964.3,311.2 L967.2,308.9 L969.5,306.5 L968.0,303.0 L968.8,300.3 L970.5,297.8 L971.8,295.3 L970.5,291.8 L972.4,289.5 L973.8,286.9 L975.3,284.4 L975.2,281.4 L975.9,278.6 L977.0,276.0 L980.5,276.9 L982.6,279.6 L985.0,282.0 L987.1,284.6 L990.3,285.4 L993.0,287.0 L996.7,286.9 L1000.0,288.0 L1003.0,290.0 L1000.2,293.6 L1002.8,296.1 L1004.1,298.8 L1008.8,300.8 L1005.3,304.5 L1006.1,307.4 L1005.2,310.6 L1008.0,313.0 L1008.1,316.1 L1009.3,319.0 L1009.2,322.1 L1013.0,324.5 L1009.8,328.3 L1011.3,331.1 L1013.3,333.8 L1013.0,337.0 L1011.9,340.1 L1011.8,343.0 L1016.5,345.0 L1016.1,347.9 L1015.4,351.0 L1016.1,353.7 L1017.4,356.3 L1018.7,359.0 L1018.0,362.0 L1016.1,365.5 L1018.3,367.9 L1021.8,369.9 L1022.8,372.6 L1019.8,376.5 L1021.4,379.0 L1021.2,382.1 L1023.2,384.5 L1025.0,387.0 L1026.9,389.5 L1026.2,392.6 L1030.0,394.6 L1029.0,397.8 L1029.0,400.9 L1029.0,403.8 L1031.4,406.2 L1031.4,409.2 L1032.0,412.0 L1032.0,414.9 L1032.6,417.7 L1032.9,420.5 L1034.0,423.2 L1035.2,425.8 L1034.3,428.9 L1035.8,431.5 L1037.5,434.0 L1037.0,437.0 L1038.4,439.6 L1038.1,442.6 L1038.8,445.3 L1039.0,448.2 L1039.8,450.9 L1040.1,453.7 L1041.1,456.4 L1043.0,458.9 L1042.0,462.0 L1041.8,465.0 L1041.4,468.0 L1042.6,470.8 L1043.8,473.7 L1043.3,476.7 L1045.6,479.4 L1047.1,482.1 L1045.0,485.4 L1046.7,488.1 L1044.9,491.4 L1047.6,494.0 L1050.0,496.6 L1047.0,500.0 L1048.7,502.6 L1045.8,505.9 L1048.7,508.3 L1050.4,510.9 L1050.0,513.9 L1048.7,516.9 L1049.2,519.7 L1050.0,522.4 L1048.7,525.5 L1050.1,528.1 L1051.4,530.8 L1051.0,533.7 L1050.1,536.7 L1051.3,539.4 L1053.0,542.0 L1052.6,545.2 L1056.1,547.1 L1055.9,550.3 L1055.7,553.4 L1057.8,555.8 L1057.0,559.1 L1058.5,561.7 L1059.0,564.6 L1061.0,567.0 L1061.8,570.0 L1058.8,573.6 L1061.1,576.3 L1063.5,578.9 L1063.6,582.0 L1061.0,585.6 L1065.3,587.9 L1064.2,591.2 L1064.7,594.2 L1066.4,597.0 L1067.0,600.0 L1069.0,602.7 L1067.9,606.0 L1068.2,609.1 L1067.7,612.3 L1068.7,615.2 L1070.2,618.0 L1069.7,621.2 L1070.7,624.1 L1071.6,627.0 L1072.4,630.0 L1073.0,633.0 L1073.7,636.1 L1073.0,639.4 L1075.6,642.2 L1075.5,645.5 L1075.1,648.7 L1077.5,651.6 L1076.0,655.0 L1077.3,657.7 L1080.1,660.0 L1079.2,663.3 L1078.4,666.6 L1079.1,669.4 L1080.8,672.0 L1082.3,674.7 L1087.6,676.3 L1075.9,682.5 L1081.7,684.0 L1080.2,687.4 L1088.6,688.2 L1086.0,692.0 L1087.3,694.9 L1094.3,696.6 L1084.7,701.6 L1084.7,704.7 L1096.4,705.5 L1089.8,710.0 L1087.7,713.5 L1097.7,714.6 L1098.6,717.6 L1092.0,722.0 L1095.8,725.4 L1093.7,728.1 L1096.4,731.4 L1090.4,733.5 L1089.1,736.2 L1087.2,738.9 L1086.6,741.8 L1089.0,745.0 L1084.4,749.8 L1086.6,752.1 L1096.9,751.4 L1094.9,755.2 L1098.0,757.2 L1099.0,759.9 L1096.3,764.0 L1097.0,766.8 L1096.2,770.2 L1105.0,770.1 L1100.0,775.0 L1102.7,778.4 L1105.3,791.6 L1108.0,800.0 L1104.0,808.0 L1107.0,815.5 L1110.0,823.4 L1113.0,833.0 L1116.3,830.1 L1119.7,824.6 L1123.0,825.0 L1126.5,840.3 L1130.0,850.0 L1127.0,875.0 L1130.2,880.7 L1133.5,883.1 L1136.8,885.1 L1140.0,892.0 L1143.0,887.8 L1146.0,874.1 L1149.0,877.6 L1152.0,878.0 L1153.0,907.0 L1137.0,916.0 L1140.2,920.1 L1143.5,918.0 L1146.8,928.8 L1150.0,932.0 L1153.2,923.6 L1156.5,908.5 L1159.8,904.0 L1163.0,896.0 L1168.0,934.0 L1171.0,935.5 L1174.0,941.3 L1177.0,944.7 L1180.0,945.0 L1182.7,949.9 L1185.3,951.6 L1188.0,960.0 L1191.5,947.4 L1195.0,936.0 L1197.7,939.4 L1200.3,946.3 L1203.0,947.0 L1206.3,958.2 L1209.7,964.1 L1213.0,977.0 L1216.3,960.9 L1219.7,954.2 L1223.0,945.0 L1226.5,958.0 L1230.0,977.0 L1233.2,968.3 L1236.5,968.0 L1239.8,962.3 L1243.0,960.0 L1247.0,970.0 L1250.2,964.7 L1253.5,960.6 L1256.8,951.1 L1260.0,947.0 L1263.5,962.8 L1267.0,960.0 L1272.0,927.0 L1274.7,936.7 L1277.3,953.4 L1280.0,960.0 L1282.7,929.8 L1285.3,903.1 L1288.0,868.0 L1293.0,957.0 L1298.0,940.0 L1301.0,928.0 L1304.0,932.0 L1307.0,933.5 L1310.0,930.0 L1313.3,935.7 L1316.7,946.0 L1320.0,940.0 L1323.3,928.0 L1326.7,918.5 L1330.0,900.0 L1333.3,911.7 L1336.7,921.1 L1340.0,926.0 L1343.0,919.4 L1346.0,908.2 L1349.0,902.2 L1352.0,887.3 L1355.0,883.0 L1358.5,894.7 L1362.0,897.0 L1365.0,890.9 L1368.0,894.0 L1371.0,899.5 L1374.0,888.1 L1377.0,887.0 L1379.7,880.7 L1382.3,879.0 L1385.0,868.0 L1389.0,850.0 L1394.0,822.0 L1397.0,817.1 L1400.0,812.0 L1402.1,809.8 L1404.9,808.5 L1407.4,806.9 L1409.9,805.1 L1412.0,803.0 L1412.1,800.1 L1414.1,797.5 L1414.6,794.7 L1414.1,791.7 L1414.8,788.9 L1414.9,786.0 L1416.5,783.4 L1415.8,780.3 L1417.2,777.7 L1417.0,774.7 L1417.4,771.9 L1418.8,769.2 L1419.7,766.4 L1419.4,763.5 L1419.5,760.6 L1420.9,757.9 L1421.0,755.0 L1422.4,752.0 L1424.0,749.1 L1426.0,746.4 L1427.2,743.3 L1428.0,740.0 L1428.4,737.2 L1430.8,734.9 L1430.1,731.9 L1431.3,729.3 L1431.2,726.3 L1432.3,723.7 L1432.0,720.7 L1434.8,718.6 L1435.2,715.8 L1434.4,712.7 L1435.0,709.9 L1435.6,707.2 L1438.0,704.9 L1438.0,702.0 L1438.2,699.2 L1439.0,696.4 L1439.3,693.6 L1439.9,690.9 L1439.9,688.0 L1441.0,685.3 L1440.7,682.4 L1442.0,679.8 L1442.7,677.0 L1443.3,674.3 L1443.4,671.4 L1443.5,668.6 L1444.6,665.9 L1444.7,663.1 L1446.4,660.5 L1446.5,657.6 L1446.4,654.8 L1447.0,652.0 L1447.3,649.0 L1447.7,646.1 L1448.0,643.1 L1448.9,640.2 L1449.8,637.4 L1450.5,634.5 L1451.1,631.5 L1452.5,628.8 L1451.4,625.5 L1452.3,622.7 L1454.5,620.0 L1452.3,616.6 L1453.6,613.8 L1454.6,611.0 L1455.0,608.0 L1455.4,605.1 L1455.8,602.3 L1455.7,599.4 L1456.3,596.6 L1456.4,593.7 L1457.1,590.8 L1455.7,587.8 L1456.6,585.0 L1457.4,582.2 L1457.1,579.3 L1457.3,576.4 L1458.6,573.6 L1458.1,570.7 L1459.1,567.9 L1459.0,565.0 L1459.7,562.1 L1459.6,559.2 L1460.0,556.4 L1459.8,553.4 L1459.3,550.5 L1460.3,547.7 L1460.8,544.8 L1460.5,541.9 L1460.9,539.0 L1461.7,536.1 L1460.9,533.2 L1462.0,530.4 L1463.0,527.5 L1461.8,524.5 L1462.4,521.7 L1462.5,518.8 L1463.7,516.0 L1463.0,513.0 L1463.6,510.2 L1464.3,507.5 L1463.8,504.6 L1464.5,501.9 L1464.9,499.1 L1464.3,496.2 L1466.6,493.7 L1466.6,490.9 L1465.5,487.9 L1467.3,485.3 L1467.2,482.4 L1467.9,479.7 L1468.3,476.9 L1467.6,474.0 L1468.7,471.3 L1470.1,468.7 L1469.3,465.7 L1470.0,463.0 L1469.8,460.1 L1470.0,457.3 L1470.4,454.6 L1471.8,451.9 L1473.0,449.3 L1472.6,446.4 L1472.9,443.6 L1474.4,441.0 L1473.2,438.0 L1473.5,435.2 L1474.6,432.5 L1475.0,429.7 L1474.5,426.8 L1474.7,424.0 L1476.0,421.4 L1476.4,418.6 L1475.8,415.7 L1477.0,413.0 L1477.1,410.1 L1477.2,407.2 L1478.1,404.3 L1478.0,401.4 L1478.3,398.5 L1478.4,395.6 L1479.5,392.8 L1479.9,389.9 L1479.1,386.9 L1480.1,384.1 L1479.4,381.1 L1480.2,378.3 L1480.9,375.4 L1481.6,372.6 L1480.7,369.6 L1481.2,366.7 L1481.6,363.8 L1480.8,360.8 L1482.0,358.0 L1482.3,355.1 L1482.2,352.1 L1483.1,349.3 L1482.6,346.2 L1482.4,343.3 L1483.9,340.5 L1484.3,337.6 L1484.1,334.6 L1485.3,331.7 L1484.9,328.8 L1485.0,325.8 L1486.0,323.0 L1486.0,320.0 L1485.3,317.0 L1486.2,314.2 L1486.8,311.4 L1487.6,308.6 L1487.3,305.7 L1487.9,302.9 L1487.6,300.0 L1488.5,297.2 L1489.6,294.4 L1488.4,291.4 L1490.6,288.7 L1489.0,285.7 L1489.7,282.9 L1490.0,280.0 L1490.4,277.1 L1491.3,274.2 L1490.3,271.2 L1490.1,268.2 L1492.0,265.5 L1492.5,262.6 L1492.7,259.6 L1494.2,256.8 L1493.1,253.8 L1493.5,250.9 L1494.2,248.0 L1494.0,245.0 L1494.5,242.2 L1495.5,239.5 L1494.0,236.5 L1494.8,233.7 L1493.2,230.8 L1496.0,228.2 L1495.5,225.3 L1496.6,222.5 L1497.5,219.8 L1496.5,216.9 L1496.6,214.0 L1496.7,211.2 L1496.7,208.4 L1497.1,205.6 L1498.1,202.8 L1498.0,200.0 L1498.8,197.2 L1499.6,194.5 L1500.2,191.6 L1501.6,189.0 L1502.2,186.2 L1502.6,183.3 L1503.8,180.7 L1504.1,177.8 L1505.0,175.0 L1504.8,172.0 L1506.9,169.5 L1506.8,166.5 L1506.4,163.6 L1508.1,160.9 L1508.0,158.0 L1508.4,160.8 L1510.2,163.3 L1508.9,166.5 L1510.3,169.0 L1510.6,171.9 L1511.6,174.5 L1512.5,177.2 L1513.0,180.0 L1514.9,182.6 L1514.4,185.9 L1516.0,188.6 L1517.2,191.4 L1517.8,194.4 L1519.0,197.2 L1520.0,200.0 L1519.8,203.0 L1520.7,205.9 L1520.7,208.8 L1522.2,211.7 L1521.4,214.7 L1521.0,217.7 L1520.8,220.7 L1522.1,223.5 L1522.2,226.5 L1521.4,229.5 L1522.8,232.3 L1522.4,235.3 L1522.1,238.3 L1523.3,241.2 L1522.8,244.2 L1524.2,247.0 L1524.0,250.0 L1524.1,253.0 L1524.5,255.9 L1524.6,258.8 L1524.3,261.8 L1523.7,264.8 L1525.8,267.6 L1526.0,270.6 L1525.6,273.6 L1526.7,276.4 L1526.1,279.4 L1526.2,282.4 L1527.0,285.3 L1526.7,288.3 L1528.2,291.1 L1527.1,294.2 L1528.7,297.0 L1528.0,300.0 L1528.6,302.8 L1528.8,305.7 L1528.9,308.6 L1528.3,311.5 L1529.0,314.3 L1529.5,317.1 L1529.2,320.0 L1528.8,322.9 L1529.9,325.7 L1529.9,328.6 L1529.6,331.5 L1530.4,334.3 L1531.6,337.1 L1531.0,340.0 L1529.7,343.0 L1530.1,345.8 L1532.8,348.5 L1531.9,351.4 L1531.8,354.3 L1531.7,357.2 L1532.1,360.0 L1532.9,362.8 L1533.6,365.7 L1533.1,368.6 L1532.7,371.5 L1534.2,374.2 L1534.4,377.1 L1534.0,380.0 L1534.2,382.9 L1535.6,385.6 L1534.8,388.6 L1535.1,391.4 L1534.8,394.3 L1535.7,397.1 L1536.0,400.0 L1536.0,402.8 L1536.0,405.7 L1536.5,408.5 L1536.3,411.4 L1536.1,414.3 L1536.1,417.2 L1537.0,420.0 L1536.2,422.9 L1537.9,425.7 L1537.9,428.6 L1539.3,431.4 L1536.9,434.4 L1538.6,437.2 L1538.4,440.1 L1538.3,443.0 L1539.6,445.7 L1538.7,448.7 L1539.2,451.5 L1540.5,454.3 L1539.4,457.3 L1539.1,460.2 L1540.0,463.0 L1541.3,465.9 L1539.9,468.9 L1540.4,471.8 L1540.4,474.8 L1540.6,477.7 L1540.3,480.7 L1541.4,483.6 L1540.9,486.6 L1541.8,489.5 L1541.3,492.4 L1542.4,495.3 L1542.2,498.3 L1541.3,501.3 L1542.2,504.2 L1542.7,507.1 L1543.5,510.0 L1543.0,513.0 L1543.7,515.9 L1543.4,518.9 L1543.1,521.9 L1543.7,524.8 L1543.9,527.7 L1544.4,530.6 L1543.8,533.7 L1545.1,536.5 L1545.4,539.4 L1544.8,542.5 L1545.6,545.4 L1546.0,548.3 L1546.4,551.2 L1546.4,554.2 L1546.2,557.1 L1546.6,560.1 L1547.0,563.0 L1548.0,565.9 L1547.2,568.9 L1547.6,571.8 L1548.6,574.7 L1547.8,577.7 L1548.7,580.6 L1549.0,583.5 L1548.5,586.5 L1548.5,589.5 L1549.9,592.3 L1549.5,595.3 L1550.5,598.2 L1548.9,601.3 L1550.8,604.1 L1550.0,607.1 L1551.0,610.0 L1551.6,612.9 L1551.0,615.9 L1550.4,618.9 L1553.5,621.6 L1552.4,624.7 L1552.1,627.7 L1552.7,630.6 L1553.3,633.5 L1551.8,636.6 L1553.3,639.4 L1554.6,642.3 L1553.3,645.3 L1555.1,648.2 L1553.6,651.2 L1554.9,654.1 L1554.7,657.1 L1555.0,660.0 L1554.4,663.0 L1555.3,665.9 L1556.4,668.8 L1556.7,671.7 L1555.2,674.7 L1555.6,677.7 L1556.7,680.6 L1555.9,683.6 L1556.3,686.5 L1556.4,689.4 L1558.3,692.3 L1557.3,695.3 L1556.8,698.3 L1557.0,701.2 L1557.1,704.1 L1559.3,707.0 L1558.0,710.0 L1558.1,712.9 L1558.2,715.9 L1557.2,718.9 L1559.5,721.7 L1559.4,724.7 L1559.4,727.6 L1559.1,730.6 L1560.1,733.5 L1558.4,736.6 L1561.5,739.3 L1560.2,742.4 L1561.6,745.2 L1560.8,748.3 L1562.3,751.1 L1563.9,753.9 L1560.1,757.2 L1562.0,760.0 L1561.7,762.8 L1563.2,765.6 L1562.3,768.5 L1561.3,771.3 L1564.4,774.0 L1563.3,776.9 L1562.5,779.7 L1562.7,782.6 L1564.2,785.3 L1567.0,787.9 L1562.2,791.1 L1563.8,793.8 L1564.4,796.6 L1565.0,799.3 L1564.4,802.2 L1565.0,805.0 L1566.1,807.8 L1567.4,810.5 L1567.4,813.4 L1567.6,816.3 L1568.1,819.1 L1569.3,821.9 L1568.0,825.0 L1567.4,828.0 L1570.7,830.6 L1568.1,833.9 L1571.0,836.4 L1569.3,839.6 L1568.1,842.7 L1570.2,845.4 L1572.0,848.1 L1571.2,851.2 L1571.4,854.1 L1572.0,857.0 L1575.0,859.6 L1573.8,862.9 L1573.1,866.0 L1574.5,868.9 L1574.2,872.0 L1573.6,875.2 L1574.0,878.2 L1574.3,881.2 L1575.2,884.1 L1577.0,886.9 L1577.0,890.0 L1577.3,893.0 L1578.0,896.0 L1578.3,899.0 L1578.4,902.0 L1580.9,904.8 L1579.1,908.0 L1578.9,911.0 L1580.6,913.9 L1579.5,917.0 L1579.0,920.1 L1580.0,923.0 L1580.7,925.8 L1577.8,929.1 L1585.1,930.9 L1582.0,934.3 L1584.8,936.8 L1581.0,940.2 L1579.0,943.4 L1587.0,945.1 L1583.6,948.5 L1583.4,951.4 L1585.0,954.1 L1585.0,957.0 L1584.7,959.9 L1589.3,962.0 L1585.2,965.6 L1586.5,968.3 L1587.5,971.0 L1588.9,973.6 L1587.6,976.8 L1589.7,979.3 L1589.2,982.3 L1590.0,985.0 L1591.2,987.8 L1594.2,990.4 L1591.3,993.7 L1591.4,996.7 L1591.0,999.7 L1593.8,1002.3 L1593.0,1005.4 L1592.4,1008.5 L1593.5,1011.3 L1592.3,1014.4 L1591.6,1017.5 L1595.0,1020.0 L1597.9,1022.7 L1600.9,1025.4 L1600.0,1030.0 L1599.3,1033.0 L1598.9,1036.0 L1600.4,1038.5 L1601.1,1041.3 L1603.8,1043.6 L1604.5,1046.3 L1602.8,1049.5 L1606.0,1051.7 L1607.9,1054.2 L1607.3,1057.2 L1602.8,1061.0 L1607.0,1063.0 L1610.9,1061.7 L1608.8,1057.3 L1610.2,1054.6 L1612.8,1052.7 L1612.9,1049.4 L1617.0,1048.2 L1616.5,1044.6 L1618.0,1042.0 L1619.9,1044.8 L1616.6,1048.0 L1619.7,1050.7 L1618.8,1053.7 L1619.4,1056.6 L1620.2,1059.5 L1619.5,1062.5 L1621.3,1065.3 L1623.3,1068.1 L1624.2,1071.0 L1623.0,1074.0 L1622.6,1077.0 L1621.7,1080.1 L1622.0,1083.0 L1623.3,1085.9 L1623.9,1089.0 L1625.8,1091.6 L1628.4,1093.8 L1629.6,1096.7 L1630.0,1100.0 L1633.9,1101.9 L1632.0,1105.7 L1631.9,1108.8 L1632.7,1111.7 L1634.5,1114.3 L1635.5,1117.2 L1634.8,1120.5 L1637.0,1123.0 L1640.2,1125.6 L1643.5,1132.4 L1646.8,1134.0 L1650.0,1133.0 L1653.3,1142.6 L1656.7,1157.5 L1660.0,1158.0 L1663.3,1146.2 L1666.7,1139.2 L1670.0,1133.0 L1673.5,1140.7 L1677.0,1158.0 L1681.0,1108.0 L1684.5,1132.7 L1688.0,1167.0 L1691.0,1177.9 L1694.0,1180.8 L1697.0,1171.9 L1700.0,1176.8 L1703.0,1175.0 L1706.0,1170.4 L1709.0,1156.5 L1712.0,1140.0 L1715.0,1167.2 L1718.0,1180.0 L1721.5,1173.9 L1725.0,1183.0 L1727.7,1165.5 L1730.3,1158.4 L1733.0,1142.0 L1736.5,1171.1 L1740.0,1183.0 L1742.7,1186.0 L1745.3,1182.5 L1748.0,1190.0 L1751.0,1183.5 L1754.0,1177.4 L1757.0,1177.0 L1760.5,1158.4 L1764.0,1150.0 L1766.7,1170.0 L1769.3,1168.2 L1772.0,1183.0 L1775.3,1190.5 L1778.7,1210.6 L1782.0,1205.0 L1785.2,1208.9 L1788.5,1200.5 L1791.8,1191.6 L1795.0,1192.0 L1798.5,1179.5 L1802.0,1162.0 L1806.0,1207.0 L1809.3,1197.7 L1812.7,1172.7 L1816.0,1150.0 L1820.0,1210.0 L1823.3,1209.9 L1826.7,1195.3 L1830.0,1187.0 L1834.0,1208.0 L1836.7,1208.4 L1839.3,1201.5 L1842.0,1200.0 L1847.0,1162.0 L1850.0,1187.6 L1853.0,1208.0 L1856.0,1207.5 L1859.0,1182.7 L1862.0,1183.0 L1865.0,1191.1 L1868.0,1200.0 L1871.3,1208.1 L1874.7,1209.9 L1878.0,1220.0 L1881.0,1211.4 L1884.0,1211.2 L1887.0,1211.8 L1890.0,1193.0 L1893.3,1206.8 L1896.7,1215.0 L1900.0,1223.0 L1902.7,1200.4 L1905.3,1207.9 L1908.0,1183.0 L1913.0,1217.0 L1918.0,1172.0 L1921.5,1201.5 L1925.0,1230.0 L1928.2,1227.8 L1931.5,1219.3 L1934.8,1223.7 L1938.0,1222.0 L1940.7,1202.4 L1943.3,1196.4 L1946.0,1183.0 L1949.5,1210.3 L1953.0,1232.0 L1956.0,1230.2 L1959.0,1228.0 L1961.7,1224.7 L1964.3,1212.9 L1967.0,1213.0 L1969.7,1228.2 L1972.3,1222.4 L1975.0,1233.0 L1978.3,1210.1 L1981.7,1207.9 L1985.0,1197.0 L1988.5,1209.9 L1992.0,1232.0 L1995.3,1214.3 L1998.7,1206.5 L2002.0,1197.0 L2004.7,1210.4 L2007.3,1213.2 L2010.0,1232.0 L2013.3,1229.2 L2016.7,1236.6 L2020.0,1226.0 L2022.7,1219.8 L2025.3,1204.4 L2028.0,1195.0 L2031.5,1213.3 L2035.0,1230.0 L2037.7,1216.6 L2040.3,1204.4 L2043.0,1192.0 L2046.5,1216.4 L2050.0,1232.0 L2052.7,1220.8 L2055.3,1196.2 L2058.0,1200.0 L2060.7,1209.2 L2063.3,1213.3 L2066.0,1228.0 L2069.0,1233.2 L2072.0,1227.0 L2075.0,1232.0 L2078.3,1225.6 L2081.7,1230.4 L2085.0,1210.0 L2088.0,1208.4 L2091.0,1212.6 L2094.0,1224.0 L2097.0,1205.9 L2100.0,1190.3 L2103.0,1195.0 L2106.5,1197.2 L2110.0,1222.0 L2113.5,1218.2 L2117.0,1210.0 L2120.0,1215.2 L2123.0,1228.0 L2128.0,1220.0 L2131.3,1213.5 L2134.7,1220.4 L2138.0,1234.0 L2141.0,1233.5 L2144.0,1220.8 L2147.0,1219.0 L2150.0,1217.0 L2153.3,1225.0 L2156.7,1237.1 L2160.0,1235.0 L2163.2,1242.4 L2166.5,1232.7 L2169.8,1223.1 L2173.0,1218.0 L2176.5,1227.1 L2180.0,1234.0 L2182.7,1239.5 L2185.3,1231.9 L2188.0,1218.0 L2190.7,1221.5 L2193.3,1231.4 L2196.0,1234.0 L2199.5,1225.2 L2203.0,1213.0 L2206.5,1222.8 L2210.0,1232.0 L2212.7,1219.0 L2215.3,1204.0 L2218.0,1202.0 L2221.0,1212.8 L2224.0,1230.0 L2227.0,1209.7 L2230.0,1208.0 L2233.0,1221.8 L2236.0,1224.2 L2239.0,1220.3 L2242.0,1234.0 L2245.2,1235.9 L2248.5,1226.4 L2251.8,1203.0 L2255.0,1208.0 L2258.5,1231.0 L2262.0,1232.0 L2265.3,1228.9 L2268.7,1228.4 L2272.0,1208.0 L2275.0,1210.6 L2278.0,1228.0 L2283.0,1215.0 L2285.7,1224.2 L2288.3,1229.5 L2291.0,1233.0" fill="none" stroke="#ff0000" stroke-width="7" stroke-linejoin="round"/>
<path d="M366.0,1226.0 L400.0,1213.0 L440.0,1203.0 L480.0,1188.0 L520.0,1170.0 L560.0,1156.0 L600.0,1138.0 L620.0,1113.0 L640.0,1088.0 L660.0,1060.0 L700.0,1040.0 L740.0,1010.0 L780.0,983.0" fill="none" stroke="#ff0000" stroke-width="8" stroke-linejoin="round"/>
<path d="M1640.0,1121.0 L1660.0,1146.0 L1690.0,1164.0 L1730.0,1178.0 L1780.0,1191.0 L1830.0,1199.0 L1880.0,1208.0 L1930.0,1218.0 L1980.0,1224.0 L2050.0,1224.0 L2100.0,1218.0 L2150.0,1224.0 L2220.0,1222.0 L2291.0,1230.0" fill="none" stroke="#ff0000" stroke-width="9" stroke-linejoin="round"/>
<path d="M366.0,1228.0 L368.6,1219.0 L371.2,1228.5 L373.8,1216.4 L376.5,1223.6 L379.1,1215.1 L381.7,1213.6 L384.3,1231.0 L386.9,1193.9 L389.5,1217.1 L392.2,1201.6 L394.8,1214.8 L397.4,1215.6 L400.0,1215.0 L402.7,1221.5 L405.3,1215.0 L408.0,1203.8 L410.7,1211.2 L413.3,1206.6 L416.0,1212.4 L418.7,1215.8 L421.3,1201.1 L424.0,1208.4 L426.7,1210.7 L429.3,1211.3 L432.0,1201.7 L434.7,1210.8 L437.3,1205.7 L440.0,1205.0 L442.7,1195.3 L445.3,1195.2 L448.0,1193.8 L450.7,1192.7 L453.3,1214.6 L456.0,1180.1 L458.7,1199.2 L461.3,1193.1 L464.0,1199.8 L466.7,1204.8 L469.3,1199.1 L472.0,1197.5 L474.7,1203.5 L477.3,1188.9 L480.0,1190.0 L482.7,1190.4 L485.3,1193.9 L488.0,1202.2 L490.7,1196.7 L493.3,1184.8 L496.0,1153.9 L498.7,1186.2 L501.3,1175.4 L504.0,1175.5 L506.7,1169.5 L509.3,1177.7 L512.0,1183.7 L514.7,1186.1 L517.3,1177.1 L520.0,1172.0 L522.7,1181.0 L525.3,1182.9 L528.0,1165.1 L530.7,1169.7 L533.3,1168.4 L536.0,1165.0 L538.7,1160.7 L541.3,1163.4 L544.0,1150.4 L546.7,1170.9 L549.3,1157.8 L552.0,1157.3 L554.7,1165.0 L557.3,1140.7 L560.0,1158.0 L562.7,1162.4 L565.3,1159.8 L568.0,1158.9 L570.7,1147.7 L573.3,1143.7 L576.0,1152.0 L578.7,1149.9 L581.3,1149.7 L584.0,1146.9 L586.7,1145.3 L589.3,1133.2 L592.0,1140.6 L594.7,1141.6 L597.3,1131.1 L600.0,1140.0 L602.9,1130.5 L605.7,1140.8 L608.6,1119.3 L611.4,1131.4 L614.3,1117.6 L617.1,1114.1 L620.0,1115.0 L622.9,1119.6 L625.7,1112.3 L628.6,1103.4 L631.4,1094.3 L634.3,1085.6 L637.1,1098.1 L640.0,1090.0 L642.9,1094.7 L645.7,1083.6 L648.6,1075.6 L651.4,1066.8 L654.3,1070.0 L657.1,1067.0 L660.0,1062.0 L662.7,1061.8 L665.3,1063.1 L668.0,1045.2 L670.7,1061.6 L673.3,1057.5 L676.0,1060.5 L678.7,1057.3 L681.3,1047.0 L684.0,1055.0 L686.7,1054.4 L689.3,1043.5 L692.0,1030.6 L694.7,1039.7 L697.3,1044.9 L700.0,1042.0 L702.7,1034.7 L705.3,1032.6 L708.0,1027.9 L710.7,1028.4 L713.3,1029.8 L716.0,1021.8 L718.7,1031.5 L721.3,1008.2 L724.0,1019.8 L726.7,1030.8 L729.3,1022.7 L732.0,1011.4 L734.7,1006.2 L737.3,1016.3 L740.0,1012.0 L742.7,1011.2 L745.3,1010.2 L748.0,1005.8 L750.7,1010.7 L753.3,994.8 L756.0,994.0 L758.7,1001.7 L761.3,996.1 L764.0,1000.7 L766.7,999.2 L769.3,986.2 L772.0,996.3 L774.7,995.4 L777.3,984.3 L780.0,985.0 L782.7,979.4 L785.5,966.3 L788.2,977.8 L790.9,973.3 L793.6,966.0 L796.4,963.9 L799.1,961.4 L801.8,956.6 L804.5,952.3 L807.3,949.9 L810.0,947.0 L812.9,943.6 L815.7,939.5 L818.6,935.4 L821.4,934.2 L824.3,927.5 L827.1,925.4 L830.0,922.0 L833.0,915.1 L836.0,905.6 L839.0,898.2 L842.0,891.2 L845.0,882.0 L848.2,873.2 L851.5,865.1 L854.8,857.6 L858.0,850.0 L861.3,834.2 L864.7,817.2 L868.0,800.0 L871.5,781.9 L875.0,760.0 L877.8,749.9 L880.5,740.7 L883.2,731.3 L886.0,722.0 L889.0,711.9 L892.0,700.5 L895.0,693.1 L898.0,682.0 L901.0,674.4 L904.0,666.7 L907.0,661.7 L910.0,652.0" fill="none" stroke="#ff0000" stroke-width="7" stroke-linejoin="round" stroke-dasharray="32 30"/>
<path d="M1568.0,805.0 L1572.0,835.0 L1576.0,865.0 L1581.0,900.0 L1585.0,935.0 L1590.0,968.0 L1595.0,1000.0 L1598.5,1015.9 L1602.0,1032.0 L1605.3,1044.5 L1608.7,1054.3 L1612.0,1065.0 L1615.2,1073.2 L1618.5,1079.9 L1621.8,1087.0 L1625.0,1095.0 L1628.0,1100.7 L1631.0,1108.0 L1634.0,1113.8 L1637.0,1119.1 L1640.0,1125.0 L1642.9,1132.6 L1645.7,1122.0 L1648.6,1145.8 L1651.4,1135.9 L1654.3,1132.8 L1657.1,1147.3 L1660.0,1150.0 L1662.7,1147.5 L1665.5,1158.1 L1668.2,1159.5 L1670.9,1146.8 L1673.6,1148.8 L1676.4,1156.5 L1679.1,1157.9 L1681.8,1164.4 L1684.5,1164.6 L1687.3,1173.0 L1690.0,1168.0 L1692.7,1173.7 L1695.3,1175.0 L1698.0,1145.6 L1700.7,1163.1 L1703.3,1160.6 L1706.0,1175.2 L1708.7,1173.8 L1711.3,1180.0 L1714.0,1169.1 L1716.7,1185.8 L1719.3,1169.1 L1722.0,1182.7 L1724.7,1175.5 L1727.3,1189.1 L1730.0,1182.0 L1732.6,1181.2 L1735.3,1177.5 L1737.9,1178.7 L1740.5,1184.0 L1743.2,1180.0 L1745.8,1184.9 L1748.4,1170.4 L1751.1,1181.5 L1753.7,1194.4 L1756.3,1142.3 L1758.9,1189.9 L1761.6,1188.7 L1764.2,1182.9 L1766.8,1192.7 L1769.5,1197.7 L1772.1,1193.1 L1774.7,1186.9 L1777.4,1193.6 L1780.0,1195.0 L1782.6,1202.4 L1785.3,1197.2 L1787.9,1195.8 L1790.5,1205.8 L1793.2,1192.3 L1795.8,1194.6 L1798.4,1172.4 L1801.1,1196.3 L1803.7,1200.3 L1806.3,1209.6 L1808.9,1199.9 L1811.6,1195.0 L1814.2,1198.7 L1816.8,1208.7 L1819.5,1210.4 L1822.1,1202.7 L1824.7,1181.9 L1827.4,1206.7 L1830.0,1203.0 L1832.6,1213.4 L1835.3,1200.9 L1837.9,1203.7 L1840.5,1210.8 L1843.2,1180.5 L1845.8,1217.9 L1848.4,1200.6 L1851.1,1207.6 L1853.7,1209.4 L1856.3,1217.0 L1858.9,1194.8 L1861.6,1207.0 L1864.2,1200.8 L1866.8,1201.7 L1869.5,1214.9 L1872.1,1216.2 L1874.7,1206.4 L1877.4,1204.2 L1880.0,1212.0 L1882.6,1213.0 L1885.3,1220.5 L1887.9,1219.5 L1890.5,1216.4 L1893.2,1208.8 L1895.8,1214.1 L1898.4,1210.8 L1901.1,1209.0 L1903.7,1235.4 L1906.3,1207.2 L1908.9,1222.4 L1911.6,1219.2 L1914.2,1219.0 L1916.8,1231.1 L1919.5,1230.0 L1922.1,1220.0 L1924.7,1208.4 L1927.4,1224.6 L1930.0,1222.0 L1932.6,1217.5 L1935.3,1227.4 L1937.9,1233.8 L1940.5,1225.6 L1943.2,1219.2 L1945.8,1221.2 L1948.4,1212.9 L1951.1,1223.0 L1953.7,1221.1 L1956.3,1197.2 L1958.9,1222.9 L1961.6,1226.9 L1964.2,1227.7 L1966.8,1226.1 L1969.5,1233.7 L1972.1,1226.2 L1974.7,1227.2 L1977.4,1200.6 L1980.0,1228.0 L1982.7,1226.1 L1985.4,1222.0 L1988.1,1238.7 L1990.8,1235.8 L1993.5,1232.4 L1996.2,1220.1 L1998.8,1224.1 L2001.5,1225.5 L2004.2,1226.3 L2006.9,1226.8 L2009.6,1217.7 L2012.3,1227.2 L2015.0,1230.8 L2017.7,1221.5 L2020.4,1233.9 L2023.1,1225.3 L2025.8,1221.8 L2028.5,1216.3 L2031.2,1234.0 L2033.8,1231.2 L2036.5,1231.8 L2039.2,1210.9 L2041.9,1204.0 L2044.6,1228.7 L2047.3,1231.3 L2050.0,1228.0 L2052.6,1231.7 L2055.3,1226.6 L2057.9,1190.9 L2060.5,1206.4 L2063.2,1223.3 L2065.8,1209.6 L2068.4,1224.0 L2071.1,1214.1 L2073.7,1220.2 L2076.3,1221.6 L2078.9,1214.3 L2081.6,1232.1 L2084.2,1226.7 L2086.8,1224.3 L2089.5,1219.6 L2092.1,1219.0 L2094.7,1224.8 L2097.4,1210.0 L2100.0,1222.0 L2102.6,1218.0 L2105.3,1229.8 L2107.9,1227.9 L2110.5,1227.8 L2113.2,1222.6 L2115.8,1222.9 L2118.4,1226.8 L2121.1,1222.3 L2123.7,1217.3 L2126.3,1225.7 L2128.9,1208.2 L2131.6,1224.1 L2134.2,1229.4 L2136.8,1215.8 L2139.5,1226.9 L2142.1,1227.3 L2144.7,1200.8 L2147.4,1221.2 L2150.0,1228.0 L2152.7,1235.5 L2155.4,1227.5 L2158.1,1220.1 L2160.8,1230.1 L2163.5,1219.9 L2166.2,1217.1 L2168.8,1223.9 L2171.5,1237.9 L2174.2,1228.7 L2176.9,1225.4 L2179.6,1234.6 L2182.3,1220.7 L2185.0,1222.7 L2187.7,1217.2 L2190.4,1224.6 L2193.1,1232.7 L2195.8,1221.8 L2198.5,1227.0 L2201.2,1232.9 L2203.8,1231.8 L2206.5,1227.9 L2209.2,1228.4 L2211.9,1223.3 L2214.6,1224.3 L2217.3,1225.2 L2220.0,1226.0 L2222.6,1225.6 L2225.3,1201.6 L2227.9,1220.7 L2230.5,1222.5 L2233.1,1223.5 L2235.8,1230.2 L2238.4,1227.4 L2241.0,1215.1 L2243.7,1233.2 L2246.3,1238.9 L2248.9,1233.2 L2251.6,1234.3 L2254.2,1234.0 L2256.8,1228.6 L2259.4,1230.8 L2262.1,1229.9 L2264.7,1224.0 L2267.3,1226.2 L2270.0,1227.0 L2272.6,1229.9 L2275.2,1228.7 L2277.9,1226.5 L2280.5,1229.9 L2283.1,1218.7 L2285.7,1232.8 L2288.4,1235.0 L2291.0,1234.0" fill="none" stroke="#ff0000" stroke-width="7" stroke-linejoin="round" stroke-dasharray="32 30"/>
<path d="M922.0,613.0 L928.0,583.0 M933.0,542.0 L938.0,515.0 M943.0,478.0 L948.0,448.0 M947.0,412.0 L954.0,394.0 L960.0,378.0 M962.0,345.0 L968.0,322.0 L973.0,305.0 M975.0,301.0 L984.0,299.0 L993.0,303.0 M997.0,323.0 L1002.0,337.0 L1007.0,353.0 M1012.0,390.0 L1018.0,420.0 M1028.0,447.0 L1033.0,485.0 M1037.0,520.0 L1042.0,538.0 L1047.0,552.0 M1052.0,588.0 L1058.0,604.0 L1063.0,617.0 M1072.0,652.0 L1079.0,682.0 M1090.0,735.0 L1097.0,762.0 M1163.0,948.0 L1168.0,964.0 L1173.0,982.0 M1195.0,988.0 L1208.0,998.0 M1218.0,1007.0 L1238.0,1010.0 M1258.0,1005.0 L1273.0,990.0 M1280.0,997.0 L1288.0,967.0 L1297.0,993.0 M1320.0,993.0 L1325.0,970.0 L1338.0,987.0 M1353.0,977.0 L1365.0,987.0 M1383.0,963.0 L1393.0,948.0 M1413.0,930.0 L1420.0,914.0 L1425.0,898.0 M1437.0,865.0 L1447.0,833.0 M1450.0,797.0 L1460.0,766.0 M1460.0,730.0 L1468.0,700.0 M1472.0,662.0 L1479.0,632.0 M1479.0,595.0 L1485.0,565.0 M1487.0,528.0 L1492.0,495.0 M1492.0,462.0 L1497.0,428.0 M1497.0,395.0 L1500.0,362.0 M1502.0,325.0 L1505.0,293.0 M1505.0,258.0 L1512.0,227.0 M1517.0,195.0 L1523.0,167.0 L1528.0,182.0 M1533.0,203.0 L1537.0,237.0 M1537.0,268.0 L1542.0,303.0 M1542.0,338.0 L1545.0,370.0 M1545.0,405.0 L1548.0,438.0 M1548.0,473.0 L1552.0,505.0 M1552.0,540.0 L1555.0,573.0 M1556.0,610.0 L1559.0,640.0 M1560.0,677.0 L1563.0,707.0 M1565.0,743.0 L1568.0,773.0" fill="none" stroke="#ff0000" stroke-width="7" stroke-linejoin="round"/>
</g>
<clipPath id="h1"><ellipse cx="1013.7" cy="385.5" rx="151.5" ry="150.5"/></clipPath>
<g clip-path="url(#h1)" stroke="rgb(70,70,255)" stroke-opacity="0.75" stroke-width="2.2" fill="none">
<path d="M560.5,538.0 L865.5,233.0 M582.7,538.0 L887.7,233.0 M604.9,538.0 L909.9,233.0 M627.1,538.0 L932.1,233.0 M649.3,538.0 L954.3,233.0 M671.5,538.0 L976.5,233.0 M693.7,538.0 L998.7,233.0 M715.9,538.0 L1020.9,233.0 M738.1,538.0 L1043.1,233.0 M760.3,538.0 L1065.3,233.0 M782.5,538.0 L1087.5,233.0 M804.7,538.0 L1109.7,233.0 M826.9,538.0 L1131.9,233.0 M849.1,538.0 L1154.1,233.0 M871.3,538.0 L1176.3,233.0 M893.5,538.0 L1198.5,233.0 M915.7,538.0 L1220.7,233.0 M937.9,538.0 L1242.9,233.0 M960.1,538.0 L1265.1,233.0 M982.3,538.0 L1287.3,233.0 M1004.5,538.0 L1309.5,233.0 M1026.7,538.0 L1331.7,233.0 M1048.9,538.0 L1353.9,233.0 M1071.1,538.0 L1376.1,233.0 M1093.3,538.0 L1398.3,233.0 M1115.5,538.0 L1420.5,233.0 M1137.7,538.0 L1442.7,233.0 M1159.9,538.0 L1464.9,233.0"/></g>
<clipPath id="h2"><ellipse cx="1524.6" cy="235.5" rx="107.5" ry="127.5"/></clipPath>
<g clip-path="url(#h2)" stroke="rgb(70,70,255)" stroke-opacity="0.75" stroke-width="2.2" fill="none">
<path d="M1162.8,365.0 L1421.8,106.0 M1185.0,365.0 L1444.0,106.0 M1207.2,365.0 L1466.2,106.0 M1229.4,365.0 L1488.4,106.0 M1251.6,365.0 L1510.6,106.0 M1273.8,365.0 L1532.8,106.0 M1296.0,365.0 L1555.0,106.0 M1318.2,365.0 L1577.2,106.0 M1340.4,365.0 L1599.4,106.0 M1362.6,365.0 L1621.6,106.0 M1384.8,365.0 L1643.8,106.0 M1407.0,365.0 L1666.0,106.0 M1429.2,365.0 L1688.2,106.0 M1451.4,365.0 L1710.4,106.0 M1473.6,365.0 L1732.6,106.0 M1495.8,365.0 L1754.8,106.0 M1518.0,365.0 L1777.0,106.0 M1540.2,365.0 L1799.2,106.0 M1562.4,365.0 L1821.4,106.0 M1584.6,365.0 L1843.6,106.0 M1606.8,365.0 L1865.8,106.0 M1629.0,365.0 L1888.0,106.0"/></g>
<clipPath id="h3"><ellipse cx="1263.2" cy="896.5" rx="157" ry="171"/></clipPath>
<g clip-path="url(#h3)" stroke="rgb(70,70,255)" stroke-opacity="0.75" stroke-width="2.2" fill="none">
<path d="M766.6,1069.5 L1112.6,723.5 M788.8,1069.5 L1134.8,723.5 M811.0,1069.5 L1157.0,723.5 M833.2,1069.5 L1179.2,723.5 M855.4,1069.5 L1201.4,723.5 M877.6,1069.5 L1223.6,723.5 M899.8,1069.5 L1245.8,723.5 M922.0,1069.5 L1268.0,723.5 M944.2,1069.5 L1290.2,723.5 M966.4,1069.5 L1312.4,723.5 M988.6,1069.5 L1334.6,723.5 M1010.8,1069.5 L1356.8,723.5 M1033.0,1069.5 L1379.0,723.5 M1055.2,1069.5 L1401.2,723.5 M1077.4,1069.5 L1423.4,723.5 M1099.6,1069.5 L1445.6,723.5 M1121.8,1069.5 L1467.8,723.5 M1144.0,1069.5 L1490.0,723.5 M1166.2,1069.5 L1512.2,723.5 M1188.4,1069.5 L1534.4,723.5 M1210.6,1069.5 L1556.6,723.5 M1232.8,1069.5 L1578.8,723.5 M1255.0,1069.5 L1601.0,723.5 M1277.2,1069.5 L1623.2,723.5 M1299.4,1069.5 L1645.4,723.5 M1321.6,1069.5 L1667.6,723.5 M1343.8,1069.5 L1689.8,723.5 M1366.0,1069.5 L1712.0,723.5 M1388.2,1069.5 L1734.2,723.5 M1410.4,1069.5 L1756.4,723.5"/></g>
<text class="tk" transform="translate(326.5,1262.9) scale(0.975,1)" text-anchor="end">0.0</text>
<text class="tk" transform="translate(326.5,1045.5) scale(0.975,1)" text-anchor="end">0.2</text>
<text class="tk" transform="translate(326.5,828.2) scale(0.975,1)" text-anchor="end">0.4</text>
<text class="tk" transform="translate(326.5,610.8) scale(0.975,1)" text-anchor="end">0.6</text>
<text class="tk" transform="translate(326.5,393.5) scale(0.975,1)" text-anchor="end">0.8</text>
<text class="tk" transform="translate(326.5,176.1) scale(0.975,1)" text-anchor="end">1.0</text>
<text class="tk" transform="translate(366.7,1338.2) scale(0.978,1)" text-anchor="middle">1000</text>
<text class="tk" transform="translate(752.1,1338.2) scale(0.978,1)" text-anchor="middle">1200</text>
<text class="tk" transform="translate(1137.4,1338.2) scale(0.978,1)" text-anchor="middle">1400</text>
<text class="tk" transform="translate(1522.8,1338.2) scale(0.978,1)" text-anchor="middle">1600</text>
<text class="tk" transform="translate(1908.1,1338.2) scale(0.978,1)" text-anchor="middle">1800</text>
<text class="tk" transform="translate(2293.5,1338.2) scale(0.978,1)" text-anchor="middle">2000</text>
<text class="tk" transform="translate(95,704) rotate(-90)" text-anchor="middle">Normalized Intensity</text>
<text class="tk" x="977.5" y="1466.7" style="font-size:74.3px">Raman Shift, cm<tspan font-size="40.5" dy="-40" dx="1">-1</tspan></text>
<path d="M1659,96.9 h108" stroke="#000" stroke-width="7" fill="none"/><text class="lg" x="1780.3" y="111.7" fill="#000" style="fill:#000">C/O=0.67 T<tspan class="sub" dy="19">max</tspan><tspan dy="-19">= 1715 K</tspan></text>
<path d="M1659,170.2 h36.3 M1728.3,170.2 h35.5" stroke="#000" stroke-width="7" fill="none"/><text class="lg" x="1780.3" y="185.0" fill="#000" style="fill:#000">C/O=0.67 T<tspan class="sub" dy="19">max</tspan><tspan dy="-19">= 1820 K</tspan></text>
<path d="M1653,300.0 h108" stroke="#ff0000" stroke-width="7" fill="none"/><text class="lg" x="1774.8" y="314.8" fill="#ff0000" style="fill:#ff0000">C/O=0.69 T<tspan class="sub" dy="19">max</tspan><tspan dy="-19">= 2006 K</tspan></text>
<path d="M1653,372.2 h36.3 M1722.3,372.2 h35.5" stroke="#ff0000" stroke-width="7" fill="none"/><text class="lg" x="1774.8" y="387.9" fill="#ff0000" style="fill:#ff0000">C/O=0.71 T<tspan class="sub" dy="19">max</tspan><tspan dy="-19">= 1984 K</tspan></text>
<path d="M762,599 L849.4,599" stroke="#000" stroke-width="2.8" fill="none"/><path d="M875,599 L843.0,590 L845.2,599 L843.0,608 Z" fill="#000"/>
<path d="M1213,597.5 L1113.6,597.5" stroke="#000" stroke-width="2.8" fill="none"/><path d="M1088,597.5 L1120.0,588.5 L1117.8,597.5 L1120.0,606.5 Z" fill="#000"/>
<path d="M1327,526.7 L1416.1,526.7" stroke="#000" stroke-width="2.8" fill="none"/><path d="M1441.7,526.7 L1409.7,517.7 L1411.9,526.7 L1409.7,535.7 Z" fill="#000"/>
<path d="M1729,524.5 L1627.3,524.5" stroke="#000" stroke-width="2.8" fill="none"/><path d="M1601.7,524.5 L1633.7,515.5 L1631.5,524.5 L1633.7,533.5 Z" fill="#000"/>
</svg></body></html>
